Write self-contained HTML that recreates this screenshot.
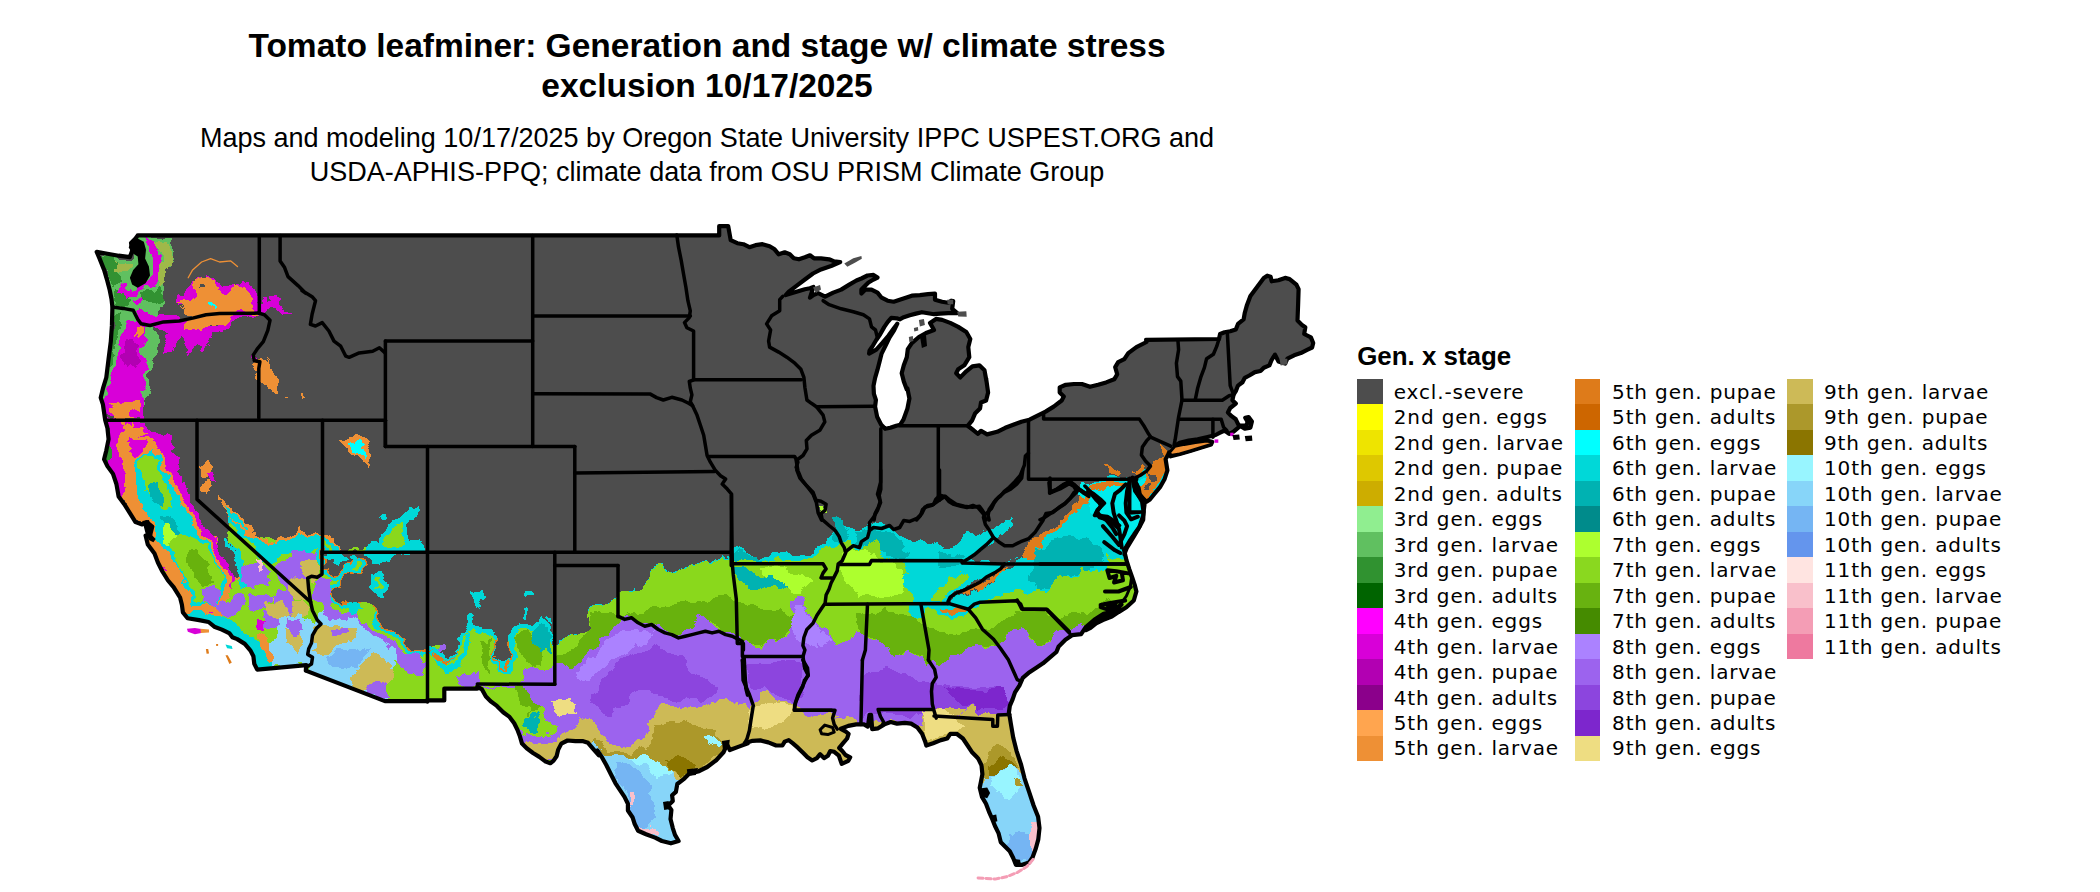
<!DOCTYPE html>
<html lang="en"><head><meta charset="utf-8"><title>Tomato leafminer: Generation and stage w/ climate stress exclusion</title>
<style>
html,body{margin:0;padding:0;background:#fff}
body{width:2100px;height:892px;position:relative;overflow:hidden;font-family:"Liberation Sans",sans-serif;color:#000}
.t{position:absolute;white-space:nowrap;text-align:center;left:0;width:1414px}
.title{font-weight:bold;font-size:33.5px;line-height:40px}
.sub{font-size:27.04px;line-height:33.3px}
.sw{position:absolute;width:26.1px;height:25.77px}
.lt{position:absolute;font-family:"DejaVu Sans",sans-serif;font-size:20px;letter-spacing:0.85px;line-height:25.47px;height:25.47px;white-space:nowrap}
.lg{position:absolute;left:1357.2px;top:341.2px;font-weight:bold;font-size:25.9px;line-height:30px;white-space:nowrap}
#map{position:absolute;left:0;top:0}
</style></head><body>
<div class="t title" style="top:25.5px">Tomato leafminer: Generation and stage w/ climate stress</div>
<div class="t title" style="top:65.8px">exclusion 10/17/2025</div>
<div class="t sub" style="top:122.4px">Maps and modeling 10/17/2025 by Oregon State University IPPC USPEST.ORG and</div>
<div class="t sub" style="top:155.7px">USDA-APHIS-PPQ; climate data from OSU PRISM Climate Group</div>
<svg id="map" width="1340" height="892" viewBox="0 0 1340 892">
<defs><filter id="rough" x="0" y="0" width="1340" height="892" filterUnits="userSpaceOnUse"><feTurbulence type="fractalNoise" baseFrequency="0.06" numOctaves="3" seed="7" result="n"/><feDisplacementMap in="SourceGraphic" in2="n" scale="15" xChannelSelector="R" yChannelSelector="G"/></filter><clipPath id="land"><path d="M137.7,235.4 L719.2,235.4 L719.2,235.1 L719.2,226.1 L728.2,226.1 L730.7,240.2 L737.3,243.2 L743.4,244.2 L749.4,247.2 L755.5,245.2 L762.5,244.2 L769.6,246.2 L774.6,249.3 L778.7,254.3 L784.7,252.3 L789.8,254.3 L793.8,258.3 L798.9,259.3 L804.9,257.3 L810.0,255.3 L814.0,258.3 L821.0,258.3 L829.1,259.3 L834.2,261.4 L840.2,262.0 L831.1,266.0 L821.0,269.4 L813.0,273.5 L804.9,279.5 L796.8,285.6 L788.8,291.6 L785.7,295.1 L794.8,292.2 L804.9,289.2 L810.0,288.2 L813.4,287.0 L812.2,291.0 L810.0,297.7 L813.4,295.1 L818.0,293.0 L825.1,296.7 L833.2,292.6 L841.2,289.6 L849.3,284.6 L856.4,280.5 L861.4,278.5 L867.5,275.5 L873.5,274.9 L877.5,277.5 L873.5,279.5 L868.5,282.5 L864.4,286.6 L861.4,289.6 L861.4,293.6 L865.4,289.6 L871.5,289.6 L877.5,292.6 L881.6,297.7 L887.6,300.7 L893.7,301.7 L899.7,299.7 L905.8,297.7 L911.8,295.7 L919.9,295.1 L928.0,294.2 L935.0,293.6 L935.0,299.7 L942.1,301.7 L948.2,302.7 L951.2,300.7 L953.2,301.1 L952.2,308.8 L957.2,313.2 L948.2,313.2 L940.1,313.6 L934.0,314.2 L928.0,313.2 L921.9,312.2 L915.9,313.6 L909.8,315.2 L903.8,317.2 L899.7,319.3 L896.7,318.3 L891.3,317.8 L887.6,322.1 L884.2,327.1 L880.2,334.2 L876.1,340.2 L873.1,345.3 L869.5,350.7 L869.1,353.6 L876.3,349.7 L882.6,342.7 L888.6,335.6 L893.7,328.5 L897.3,323.7 L894.1,330.4 L889.6,337.4 L885.6,345.5 L881.6,353.6 L879.6,361.6 L877.5,369.7 L875.1,377.8 L873.5,385.8 L873.9,393.9 L875.9,400.0 L875.1,406.6 L877.1,416.7 L881.2,424.7 L885.2,428.8 L890.3,427.8 L896.3,425.7 L900.3,424.7 L903.4,419.7 L907.4,408.6 L909.4,398.5 L907.4,388.4 L906.8,389.5 L903.8,381.4 L901.7,373.3 L903.8,365.3 L906.8,357.2 L907.8,349.1 L911.8,343.1 L918.9,337.0 L926.0,333.0 L934.0,330.0 L930.0,322.9 L936.0,318.9 L942.1,319.9 L950.2,322.9 L958.2,326.9 L966.3,332.0 L970.3,339.0 L968.3,347.1 L969.3,357.2 L964.3,365.3 L958.2,369.3 L956.2,373.3 L960.3,377.4 L966.3,371.3 L972.4,366.3 L979.4,365.3 L984.5,370.3 L986.5,381.4 L986.1,378.3 L988.1,392.5 L986.1,400.5 L981.0,402.5 L980.0,408.6 L975.0,413.6 L972.0,420.7 L967.9,425.7 L973.0,429.8 L978.0,433.8 L981.0,430.8 L987.1,434.4 L997.2,431.8 L1005.3,427.8 L1013.3,424.7 L1021.4,421.7 L1029.5,419.7 L1037.5,415.7 L1045.6,411.6 L1053.7,406.6 L1061.7,400.5 L1063.8,396.5 L1059.7,392.5 L1059.7,387.4 L1065.8,384.8 L1073.9,384.0 L1081.9,384.0 L1090.0,386.8 L1098.1,384.8 L1106.1,382.4 L1114.2,379.3 L1117.2,374.3 L1115.2,367.2 L1118.2,362.2 L1124.3,359.2 L1128.3,353.1 L1136.4,347.1 L1146.5,342.0 L1146.1,339.9 L1219.0,339.0 L1220.1,334.0 L1224.6,332.2 L1230.2,331.3 L1235.8,329.5 L1238.0,323.9 L1243.6,319.4 L1244.8,312.7 L1247.0,304.9 L1250.4,295.9 L1257.1,286.9 L1263.8,277.9 L1267.2,275.7 L1270.6,276.8 L1271.7,281.3 L1278.4,280.2 L1285.1,277.9 L1289.6,279.1 L1296.4,284.7 L1298.6,289.2 L1298.1,304.9 L1297.5,320.6 L1302.0,325.0 L1305.3,327.3 L1304.2,334.0 L1310.9,337.4 L1313.2,343.0 L1312.1,347.5 L1307.6,349.7 L1300.8,353.1 L1294.1,355.3 L1287.4,358.7 L1285.1,363.6 L1278.4,361.4 L1275.0,354.7 L1271.7,359.8 L1269.4,365.4 L1263.8,367.7 L1260.5,371.0 L1254.9,372.1 L1249.3,375.5 L1244.8,377.8 L1242.5,382.2 L1238.0,385.6 L1235.8,391.2 L1233.6,394.6 L1232.4,400.2 L1235.8,403.6 L1230.2,408.0 L1227.9,412.5 L1231.3,415.9 L1235.8,419.3 L1238.5,424.9 L1244.8,428.7 L1250.4,427.6 L1251.9,421.5 L1248.6,417.0 L1245.2,417.7 L1247.7,421.9 L1246.3,425.3 L1240.7,425.5 L1238.0,427.8 L1233.6,431.6 L1229.1,433.8 L1224.6,430.5 L1220.1,432.7 L1215.6,435.0 L1206.6,437.2 L1197.7,439.4 L1188.7,440.6 L1179.7,442.8 L1174.8,445.5 L1184.2,443.9 L1195.4,442.1 L1206.6,440.6 L1212.2,441.7 L1211.1,444.4 L1202.1,447.3 L1190.9,450.7 L1179.7,454.0 L1170.7,456.3 L1169.0,452.4 L1168.3,454.2 L1165.6,459.2 L1167.4,470.4 L1164.5,479.3 L1160.0,487.2 L1154.4,493.9 L1149.9,499.5 L1146.5,501.8 L1143.6,499.1 L1139.8,495.0 L1138.7,488.3 L1135.3,481.6 L1132.4,477.6 L1134.2,486.1 L1137.6,493.9 L1142.1,501.8 L1143.6,511.9 L1143.2,519.7 L1139.8,526.4 L1134.2,534.3 L1129.7,541.0 L1126.4,546.6 L1124.1,550.0 L1126.4,560.1 L1129.3,569.1 L1132.4,578.0 L1134.7,584.8 L1136.4,591.5 L1133.8,600.5 L1126.4,607.2 L1118.5,612.1 L1111.8,616.6 L1102.8,620.0 L1096.1,623.3 L1090.5,627.8 L1086.0,630.1 L1121.5,604.5 L1114.8,611.2 L1103.6,613.9 L1094.6,619.5 L1085.6,627.4 L1081.1,634.1 L1072.1,635.2 L1065.4,639.7 L1058.7,646.4 L1056.4,652.0 L1049.7,657.6 L1043.0,663.3 L1036.3,667.7 L1029.5,672.2 L1022.8,677.8 L1019.4,685.7 L1015.0,692.4 L1012.7,699.1 L1009.8,705.9 L1008.9,712.6 L1009.8,717.1 L1010.9,724.0 L1013.2,737.5 L1016.6,751.1 L1021.1,764.7 L1024.5,778.3 L1029.1,791.9 L1033.6,805.5 L1038.1,816.8 L1039.5,828.1 L1038.3,839.4 L1035.8,848.5 L1032.5,857.5 L1029.1,862.5 L1022.3,864.8 L1015.9,864.8 L1013.2,858.0 L1009.8,851.2 L1005.3,846.7 L1000.8,842.2 L998.5,833.1 L995.1,826.3 L992.4,819.5 L989.4,812.7 L986.0,803.7 L982.0,796.9 L979.7,787.8 L981.1,781.0 L982.4,774.2 L981.5,765.2 L978.1,758.4 L977.0,757.3 L972.3,752.6 L967.6,745.5 L962.9,738.5 L956.6,733.8 L950.3,733.8 L947.2,738.5 L940.9,740.1 L933.1,743.2 L926.3,745.5 L925.2,741.6 L922.1,733.8 L917.4,727.5 L911.1,723.6 L904.8,722.8 L897.0,723.6 L890.7,722.0 L884.4,724.4 L878.1,728.3 L872.2,729.1 L871.1,714.9 L869.5,714.9 L867.9,726.7 L864.0,724.4 L856.2,724.4 L848.3,725.9 L840.8,728.8 L845.5,731.4 L848.6,733.8 L847.1,738.5 L843.1,743.2 L839.2,747.9 L842.3,751.0 L845.5,755.0 L850.2,757.3 L848.3,760.8 L841.7,763.9 L838.9,755.7 L834.2,751.8 L830.3,751.0 L827.9,755.7 L824.0,758.1 L820.1,754.2 L816.9,758.1 L812.2,760.5 L807.5,757.3 L802.8,752.6 L798.1,747.9 L792.6,743.2 L788.7,740.1 L784.7,741.6 L782.4,745.5 L776.1,745.5 L768.3,742.4 L760.4,740.4 L752.6,740.8 L744.7,743.2 L747.9,743.2 L738.9,746.6 L729.8,750.0 L727.1,744.3 L723.5,752.3 L716.2,760.2 L707.2,767.0 L698.1,771.5 L689.1,773.8 L683.4,779.4 L677.3,784.0 L675.9,791.9 L672.1,795.3 L672.8,800.9 L668.2,805.5 L671.4,810.0 L670.5,819.1 L672.8,828.1 L675.0,834.9 L678.6,841.0 L670.9,843.3 L661.9,841.0 L655.1,837.6 L646.0,834.2 L638.1,830.8 L634.7,824.0 L632.5,817.2 L627.9,810.5 L627.9,803.7 L624.5,796.9 L620.0,790.1 L615.5,783.3 L610.9,774.2 L606.4,765.2 L601.9,757.2 L597.4,750.5 L598.9,755.4 L592.7,748.3 L588.0,742.8 L583.2,741.2 L575.4,741.2 L567.5,740.5 L561.3,743.6 L558.1,749.9 L556.6,756.2 L553.4,760.9 L550.3,763.2 L545.6,761.6 L539.3,756.9 L533.0,753.0 L526.7,748.3 L522.0,743.6 L519.7,735.7 L517.3,729.5 L514.2,723.2 L509.5,716.9 L503.2,712.2 L496.9,705.9 L490.6,701.2 L485.9,696.5 L482.0,689.4 L477.3,686.6 L477.3,688.7 L444.3,688.7 L444.3,700.4 L427.1,700.4 L427.8,701.1 L384.9,701.1 L305.8,670.6 L306.2,665.2 L257.2,669.6 L254.3,663.9 L253.4,656.3 L250.5,650.6 L244.8,643.9 L237.2,639.1 L232.4,637.2 L229.6,633.4 L221.9,629.6 L214.3,626.7 L208.6,622.0 L199.1,620.1 L187.6,618.2 L182.9,612.4 L181.9,604.8 L180.0,597.2 L179.2,596.2 L173.6,587.2 L168.0,580.5 L162.4,571.5 L157.9,562.5 L154.5,553.6 L147.8,544.6 L145.6,535.6 L150.0,535.6 L152.3,526.6 L146.7,522.1 L142.2,524.4 L135.5,522.1 L129.9,513.2 L124.3,504.2 L118.6,496.4 L116.4,484.0 L113.0,473.9 L107.4,466.1 L104.1,459.3 L106.3,450.4 L108.6,439.2 L107.4,427.9 L105.2,420.1 L102.9,404.4 L100.7,397.7 L102.9,388.7 L106.3,377.5 L108.5,359.6 L110.8,341.6 L111.9,325.9 L112.4,306.9 L111.5,299.0 L109.7,290.0 L107.4,281.1 L104.1,269.9 L99.6,258.6 L96.7,251.9 L107.4,253.7 L118.6,255.7 L129.9,257.1 L132.5,249.7 L131.0,242.9 L135.5,238.5 L137.7,235.5Z"/></clipPath></defs>
<path d="M137.7,235.4 L719.2,235.4 L719.2,235.1 L719.2,226.1 L728.2,226.1 L730.7,240.2 L737.3,243.2 L743.4,244.2 L749.4,247.2 L755.5,245.2 L762.5,244.2 L769.6,246.2 L774.6,249.3 L778.7,254.3 L784.7,252.3 L789.8,254.3 L793.8,258.3 L798.9,259.3 L804.9,257.3 L810.0,255.3 L814.0,258.3 L821.0,258.3 L829.1,259.3 L834.2,261.4 L840.2,262.0 L831.1,266.0 L821.0,269.4 L813.0,273.5 L804.9,279.5 L796.8,285.6 L788.8,291.6 L785.7,295.1 L794.8,292.2 L804.9,289.2 L810.0,288.2 L813.4,287.0 L812.2,291.0 L810.0,297.7 L813.4,295.1 L818.0,293.0 L825.1,296.7 L833.2,292.6 L841.2,289.6 L849.3,284.6 L856.4,280.5 L861.4,278.5 L867.5,275.5 L873.5,274.9 L877.5,277.5 L873.5,279.5 L868.5,282.5 L864.4,286.6 L861.4,289.6 L861.4,293.6 L865.4,289.6 L871.5,289.6 L877.5,292.6 L881.6,297.7 L887.6,300.7 L893.7,301.7 L899.7,299.7 L905.8,297.7 L911.8,295.7 L919.9,295.1 L928.0,294.2 L935.0,293.6 L935.0,299.7 L942.1,301.7 L948.2,302.7 L951.2,300.7 L953.2,301.1 L952.2,308.8 L957.2,313.2 L948.2,313.2 L940.1,313.6 L934.0,314.2 L928.0,313.2 L921.9,312.2 L915.9,313.6 L909.8,315.2 L903.8,317.2 L899.7,319.3 L896.7,318.3 L891.3,317.8 L887.6,322.1 L884.2,327.1 L880.2,334.2 L876.1,340.2 L873.1,345.3 L869.5,350.7 L869.1,353.6 L876.3,349.7 L882.6,342.7 L888.6,335.6 L893.7,328.5 L897.3,323.7 L894.1,330.4 L889.6,337.4 L885.6,345.5 L881.6,353.6 L879.6,361.6 L877.5,369.7 L875.1,377.8 L873.5,385.8 L873.9,393.9 L875.9,400.0 L875.1,406.6 L877.1,416.7 L881.2,424.7 L885.2,428.8 L890.3,427.8 L896.3,425.7 L900.3,424.7 L903.4,419.7 L907.4,408.6 L909.4,398.5 L907.4,388.4 L906.8,389.5 L903.8,381.4 L901.7,373.3 L903.8,365.3 L906.8,357.2 L907.8,349.1 L911.8,343.1 L918.9,337.0 L926.0,333.0 L934.0,330.0 L930.0,322.9 L936.0,318.9 L942.1,319.9 L950.2,322.9 L958.2,326.9 L966.3,332.0 L970.3,339.0 L968.3,347.1 L969.3,357.2 L964.3,365.3 L958.2,369.3 L956.2,373.3 L960.3,377.4 L966.3,371.3 L972.4,366.3 L979.4,365.3 L984.5,370.3 L986.5,381.4 L986.1,378.3 L988.1,392.5 L986.1,400.5 L981.0,402.5 L980.0,408.6 L975.0,413.6 L972.0,420.7 L967.9,425.7 L973.0,429.8 L978.0,433.8 L981.0,430.8 L987.1,434.4 L997.2,431.8 L1005.3,427.8 L1013.3,424.7 L1021.4,421.7 L1029.5,419.7 L1037.5,415.7 L1045.6,411.6 L1053.7,406.6 L1061.7,400.5 L1063.8,396.5 L1059.7,392.5 L1059.7,387.4 L1065.8,384.8 L1073.9,384.0 L1081.9,384.0 L1090.0,386.8 L1098.1,384.8 L1106.1,382.4 L1114.2,379.3 L1117.2,374.3 L1115.2,367.2 L1118.2,362.2 L1124.3,359.2 L1128.3,353.1 L1136.4,347.1 L1146.5,342.0 L1146.1,339.9 L1219.0,339.0 L1220.1,334.0 L1224.6,332.2 L1230.2,331.3 L1235.8,329.5 L1238.0,323.9 L1243.6,319.4 L1244.8,312.7 L1247.0,304.9 L1250.4,295.9 L1257.1,286.9 L1263.8,277.9 L1267.2,275.7 L1270.6,276.8 L1271.7,281.3 L1278.4,280.2 L1285.1,277.9 L1289.6,279.1 L1296.4,284.7 L1298.6,289.2 L1298.1,304.9 L1297.5,320.6 L1302.0,325.0 L1305.3,327.3 L1304.2,334.0 L1310.9,337.4 L1313.2,343.0 L1312.1,347.5 L1307.6,349.7 L1300.8,353.1 L1294.1,355.3 L1287.4,358.7 L1285.1,363.6 L1278.4,361.4 L1275.0,354.7 L1271.7,359.8 L1269.4,365.4 L1263.8,367.7 L1260.5,371.0 L1254.9,372.1 L1249.3,375.5 L1244.8,377.8 L1242.5,382.2 L1238.0,385.6 L1235.8,391.2 L1233.6,394.6 L1232.4,400.2 L1235.8,403.6 L1230.2,408.0 L1227.9,412.5 L1231.3,415.9 L1235.8,419.3 L1238.5,424.9 L1244.8,428.7 L1250.4,427.6 L1251.9,421.5 L1248.6,417.0 L1245.2,417.7 L1247.7,421.9 L1246.3,425.3 L1240.7,425.5 L1238.0,427.8 L1233.6,431.6 L1229.1,433.8 L1224.6,430.5 L1220.1,432.7 L1215.6,435.0 L1206.6,437.2 L1197.7,439.4 L1188.7,440.6 L1179.7,442.8 L1174.8,445.5 L1184.2,443.9 L1195.4,442.1 L1206.6,440.6 L1212.2,441.7 L1211.1,444.4 L1202.1,447.3 L1190.9,450.7 L1179.7,454.0 L1170.7,456.3 L1169.0,452.4 L1168.3,454.2 L1165.6,459.2 L1167.4,470.4 L1164.5,479.3 L1160.0,487.2 L1154.4,493.9 L1149.9,499.5 L1146.5,501.8 L1143.6,499.1 L1139.8,495.0 L1138.7,488.3 L1135.3,481.6 L1132.4,477.6 L1134.2,486.1 L1137.6,493.9 L1142.1,501.8 L1143.6,511.9 L1143.2,519.7 L1139.8,526.4 L1134.2,534.3 L1129.7,541.0 L1126.4,546.6 L1124.1,550.0 L1126.4,560.1 L1129.3,569.1 L1132.4,578.0 L1134.7,584.8 L1136.4,591.5 L1133.8,600.5 L1126.4,607.2 L1118.5,612.1 L1111.8,616.6 L1102.8,620.0 L1096.1,623.3 L1090.5,627.8 L1086.0,630.1 L1121.5,604.5 L1114.8,611.2 L1103.6,613.9 L1094.6,619.5 L1085.6,627.4 L1081.1,634.1 L1072.1,635.2 L1065.4,639.7 L1058.7,646.4 L1056.4,652.0 L1049.7,657.6 L1043.0,663.3 L1036.3,667.7 L1029.5,672.2 L1022.8,677.8 L1019.4,685.7 L1015.0,692.4 L1012.7,699.1 L1009.8,705.9 L1008.9,712.6 L1009.8,717.1 L1010.9,724.0 L1013.2,737.5 L1016.6,751.1 L1021.1,764.7 L1024.5,778.3 L1029.1,791.9 L1033.6,805.5 L1038.1,816.8 L1039.5,828.1 L1038.3,839.4 L1035.8,848.5 L1032.5,857.5 L1029.1,862.5 L1022.3,864.8 L1015.9,864.8 L1013.2,858.0 L1009.8,851.2 L1005.3,846.7 L1000.8,842.2 L998.5,833.1 L995.1,826.3 L992.4,819.5 L989.4,812.7 L986.0,803.7 L982.0,796.9 L979.7,787.8 L981.1,781.0 L982.4,774.2 L981.5,765.2 L978.1,758.4 L977.0,757.3 L972.3,752.6 L967.6,745.5 L962.9,738.5 L956.6,733.8 L950.3,733.8 L947.2,738.5 L940.9,740.1 L933.1,743.2 L926.3,745.5 L925.2,741.6 L922.1,733.8 L917.4,727.5 L911.1,723.6 L904.8,722.8 L897.0,723.6 L890.7,722.0 L884.4,724.4 L878.1,728.3 L872.2,729.1 L871.1,714.9 L869.5,714.9 L867.9,726.7 L864.0,724.4 L856.2,724.4 L848.3,725.9 L840.8,728.8 L845.5,731.4 L848.6,733.8 L847.1,738.5 L843.1,743.2 L839.2,747.9 L842.3,751.0 L845.5,755.0 L850.2,757.3 L848.3,760.8 L841.7,763.9 L838.9,755.7 L834.2,751.8 L830.3,751.0 L827.9,755.7 L824.0,758.1 L820.1,754.2 L816.9,758.1 L812.2,760.5 L807.5,757.3 L802.8,752.6 L798.1,747.9 L792.6,743.2 L788.7,740.1 L784.7,741.6 L782.4,745.5 L776.1,745.5 L768.3,742.4 L760.4,740.4 L752.6,740.8 L744.7,743.2 L747.9,743.2 L738.9,746.6 L729.8,750.0 L727.1,744.3 L723.5,752.3 L716.2,760.2 L707.2,767.0 L698.1,771.5 L689.1,773.8 L683.4,779.4 L677.3,784.0 L675.9,791.9 L672.1,795.3 L672.8,800.9 L668.2,805.5 L671.4,810.0 L670.5,819.1 L672.8,828.1 L675.0,834.9 L678.6,841.0 L670.9,843.3 L661.9,841.0 L655.1,837.6 L646.0,834.2 L638.1,830.8 L634.7,824.0 L632.5,817.2 L627.9,810.5 L627.9,803.7 L624.5,796.9 L620.0,790.1 L615.5,783.3 L610.9,774.2 L606.4,765.2 L601.9,757.2 L597.4,750.5 L598.9,755.4 L592.7,748.3 L588.0,742.8 L583.2,741.2 L575.4,741.2 L567.5,740.5 L561.3,743.6 L558.1,749.9 L556.6,756.2 L553.4,760.9 L550.3,763.2 L545.6,761.6 L539.3,756.9 L533.0,753.0 L526.7,748.3 L522.0,743.6 L519.7,735.7 L517.3,729.5 L514.2,723.2 L509.5,716.9 L503.2,712.2 L496.9,705.9 L490.6,701.2 L485.9,696.5 L482.0,689.4 L477.3,686.6 L477.3,688.7 L444.3,688.7 L444.3,700.4 L427.1,700.4 L427.8,701.1 L384.9,701.1 L305.8,670.6 L306.2,665.2 L257.2,669.6 L254.3,663.9 L253.4,656.3 L250.5,650.6 L244.8,643.9 L237.2,639.1 L232.4,637.2 L229.6,633.4 L221.9,629.6 L214.3,626.7 L208.6,622.0 L199.1,620.1 L187.6,618.2 L182.9,612.4 L181.9,604.8 L180.0,597.2 L179.2,596.2 L173.6,587.2 L168.0,580.5 L162.4,571.5 L157.9,562.5 L154.5,553.6 L147.8,544.6 L145.6,535.6 L150.0,535.6 L152.3,526.6 L146.7,522.1 L142.2,524.4 L135.5,522.1 L129.9,513.2 L124.3,504.2 L118.6,496.4 L116.4,484.0 L113.0,473.9 L107.4,466.1 L104.1,459.3 L106.3,450.4 L108.6,439.2 L107.4,427.9 L105.2,420.1 L102.9,404.4 L100.7,397.7 L102.9,388.7 L106.3,377.5 L108.5,359.6 L110.8,341.6 L111.9,325.9 L112.4,306.9 L111.5,299.0 L109.7,290.0 L107.4,281.1 L104.1,269.9 L99.6,258.6 L96.7,251.9 L107.4,253.7 L118.6,255.7 L129.9,257.1 L132.5,249.7 L131.0,242.9 L135.5,238.5 L137.7,235.5Z" fill="#4D4D4D"/>
<g clip-path="url(#land)"><g filter="url(#rough)" shape-rendering="crispEdges">
<path d="M160.9,540.0 L322.0,540.0 L322.0,551.8 L427.8,551.8 L427.8,710.0 L160.9,710.0Z" fill="#8AD81F"/>
<path d="M230.0,507.6 L238.1,517.7 L246.1,527.8 L254.2,537.9 L264.3,541.9 L274.4,544.0 L282.5,535.9 L290.6,537.9 L298.6,529.8 L306.7,533.9 L314.8,531.8 L321.8,535.9 L330.9,537.9 L341.0,545.0 L343.0,553.0 L343.0,621.7 L230.0,621.7Z" fill="#EE9035"/>
<path d="M230.0,510.6 L238.1,520.7 L246.1,530.8 L254.2,540.9 L264.3,545.0 L274.4,547.0 L282.5,538.9 L290.6,540.9 L298.6,532.9 L306.7,536.9 L314.8,534.9 L321.8,538.9 L330.9,540.9 L341.0,547.0 L343.0,555.1 L351.1,559.1 L355.1,565.1 L351.1,571.2 L343.0,573.2 L339.0,581.3 L332.9,591.4 L339.0,599.5 L347.1,599.5 L355.1,601.5 L371.3,603.5 L375.3,621.7 L230.0,621.7Z" fill="#00D8D8"/>
<path d="M230.0,524.8 L242.1,534.9 L254.2,549.0 L270.4,553.0 L286.5,549.0 L302.7,545.0 L321.8,547.0 L335.0,553.0 L343.0,561.1 L339.0,571.2 L332.9,581.3 L328.9,591.4 L335.0,601.5 L351.1,607.5 L367.3,609.6 L371.3,621.7 L230.0,621.7Z" fill="#8AD81F"/>
<path d="M313.4,623.9 L324.9,608.6 L332.5,595.3 L370.6,606.7 L427.8,654.4 L427.8,703.9 L384.9,703.9 L305.8,671.5 L311.5,654.4 L313.4,635.3Z" fill="#87D5F9"/>
<path d="M393.5,658.2 L427.8,654.4 L427.8,703.9 L389.7,703.9 L387.8,684.9Z" fill="#8AD81F"/>
<path d="M338.2,587.7 L332.5,595.3 L338.2,602.9 L347.7,601.0 L359.2,602.9 L370.6,606.7 L380.1,620.1 L389.7,629.6 L399.2,635.3 L408.7,642.9 L418.3,652.5 L427.8,648.7" fill="none" stroke="#9C63EE" stroke-width="32.0" stroke-linejoin="round" stroke-linecap="round"/>
<path d="M322.0,551.8 L324.9,559.1 L326.8,566.7 L332.5,574.3 L343.9,568.6 L351.6,559.1 L363.0,557.2 L366.8,564.8 L363.0,574.3 L351.6,572.4 L343.9,578.1 L338.2,587.7 L332.5,595.3 L338.2,602.9 L347.7,601.0 L359.2,602.9 L370.6,606.7 L380.1,620.1 L389.7,629.6 L399.2,635.3 L408.7,642.9 L418.3,652.5 L427.8,648.7" fill="none" stroke="#8AD81F" stroke-width="19.8" stroke-linejoin="round" stroke-linecap="round"/>
<path d="M322.0,551.8 L324.9,559.1 L326.8,566.7 L332.5,574.3 L343.9,568.6 L351.6,559.1 L363.0,557.2 L366.8,564.8 L363.0,574.3 L351.6,572.4 L343.9,578.1 L338.2,587.7 L332.5,595.3 L338.2,602.9 L347.7,601.0 L359.2,602.9 L370.6,606.7 L380.1,620.1 L389.7,629.6 L399.2,635.3 L408.7,642.9 L418.3,652.5 L427.8,648.7" fill="none" stroke="#00D8D8" stroke-width="9.9" stroke-linejoin="round" stroke-linecap="round"/>
<path d="M322.0,551.8 L324.9,559.1 L326.8,566.7 L332.5,574.3 L343.9,568.6 L351.6,559.1 L363.0,557.2 L366.8,564.8 L363.0,574.3 L351.6,572.4 L343.9,578.1 L338.2,587.7 L332.5,595.3 L338.2,602.9 L347.7,601.0 L359.2,602.9 L370.6,606.7 L380.1,620.1 L389.7,629.6 L399.2,635.3 L408.7,642.9 L418.3,652.5 L427.8,648.7" fill="none" stroke="#DE7B1A" stroke-width="2.7" stroke-linejoin="round" stroke-linecap="round"/>
<path d="M322.0,551.8 L427.8,551.8 L427.8,646.7 L418.3,652.5 L408.7,642.9 L399.2,635.3 L389.7,629.6 L380.1,620.1 L370.6,606.7 L359.2,602.9 L347.7,601.0 L338.2,602.9 L332.5,595.3 L338.2,587.7 L343.9,578.1 L351.6,572.4 L363.0,574.3 L366.8,564.8 L363.0,557.2 L351.6,559.1 L343.9,568.6 L332.5,574.3 L326.8,566.7 L324.9,559.1Z" fill="#4D4D4D"/>
<path d="M427.8,551.8 L454.5,551.8 L454.5,643.9 L427.8,643.9Z" fill="#4D4D4D"/>
<path d="M370.6,555.2 L389.7,554.3 L391.6,561.0 L378.2,564.8 L370.6,561.0Z" fill="#00D8D8"/>
<path d="M372.5,572.4 L382.1,570.5 L386.8,583.8 L384.9,596.2 L378.2,593.4 L373.5,583.8Z" fill="#00D8D8"/>
<path d="M376.3,576.2 L381.1,576.2 L384.0,587.7 L380.1,590.5Z" fill="#8AD81F"/>
<path d="M349.6,601.0 L359.2,602.0 L361.1,614.3 L353.5,616.2 L348.7,608.6Z" fill="#00D8D8"/>
<path d="M359.2,604.8 L370.6,605.8 L373.5,620.1 L365.9,624.8 L360.1,616.2Z" fill="#8AD81F"/>
<path d="M229.6,540.0 L237.2,551.4 L239.1,564.8 L235.3,578.1" fill="none" stroke="#00D8D8" stroke-width="6.9" stroke-linejoin="round" stroke-linecap="round"/>
<path d="M213.4,540.0 L218.1,551.4 L223.8,564.8 L229.6,576.2 L235.3,578.1" fill="none" stroke="#EE9035" stroke-width="5.7" stroke-linejoin="round" stroke-linecap="round"/>
<path d="M215.3,540.0 L219.5,551.4 L225.2,564.8 L230.5,575.3" fill="none" stroke="#D800D8" stroke-width="1.9" stroke-linejoin="round" stroke-linecap="round"/>
<path d="M213.4,530.5 L229.6,530.5 L237.2,551.4 L239.1,564.8 L235.3,578.1 L229.6,576.2 L223.8,564.8 L218.1,551.4Z" fill="#4D4D4D"/>
<path d="M365.2,547.0 L379.4,542.9 L383.4,532.9 L393.5,520.7 L403.6,514.7 L411.7,508.6 L419.7,504.6 L418.7,514.7 L411.7,520.7 L405.6,528.8 L411.7,540.9 L419.7,536.9 L423.8,540.9 L424.8,550.6 L411.7,553.0 L399.6,555.5 L391.5,561.1 L383.4,563.1 L371.3,561.1 L365.2,555.1Z" fill="#00D8D8"/>
<path d="M387.4,534.9 L395.5,526.8 L403.6,524.8 L401.6,534.9 L405.6,545.0 L391.5,548.0 L383.4,545.0Z" fill="#8AD81F"/>
<path d="M371.3,571.2 L383.4,573.2 L386.4,585.3 L383.8,597.8 L377.4,589.8 L373.3,581.3Z" fill="#00D8D8"/>
<path d="M376.9,577.3 L381.0,577.3 L381.8,589.4 L378.4,587.4Z" fill="#8AD81F"/>
<path d="M324.9,553.0 L343.0,554.0 L345.1,561.1 L335.0,563.1 L324.9,561.1Z" fill="#00D8D8"/>
<path d="M348.1,557.1 L354.1,556.7 L355.1,565.1 L349.1,566.2Z" fill="#00D8D8"/>
<path d="M380.4,515.1 L385.4,515.1 L386.4,520.7 L381.4,521.1Z" fill="#00D8D8"/>
<path d="M339.0,440.0 L351.1,436.0 L365.2,440.0 L369.3,452.1 L371.3,468.3 L365.2,462.2 L359.2,456.1 L349.1,452.1 L343.0,446.1Z" fill="#EE9035"/>
<path d="M349.1,441.0 L359.2,442.0 L364.2,450.1 L367.3,458.2 L361.2,455.1 L353.1,450.1Z" fill="#00FFFF"/>
<path d="M271.5,616.2 L286.7,612.4 L302.0,616.2 L313.4,623.9 L324.9,622.0 L332.5,629.6 L324.9,654.4 L338.2,646.7 L351.6,639.1 L370.6,635.3 L378.2,650.6 L363.0,662.0 L347.7,677.2 L343.9,690.6 L305.8,673.4 L305.8,664.9 L271.5,668.1 L265.8,658.2 L269.6,642.9 L275.3,629.6Z" fill="#87D5F9"/>
<path d="M328.7,654.4 L342.0,650.6 L363.0,646.7 L370.6,652.5 L359.2,662.0 L343.9,669.6 L332.5,667.7Z" fill="#75B5F3"/>
<path d="M313.4,624.8 L336.3,623.9 L359.2,629.6 L351.6,639.1 L338.2,646.7 L324.9,654.4 L315.3,650.6 L311.5,639.1Z" fill="#CDBA57"/>
<path d="M330.6,629.6 L349.6,626.7 L347.7,635.3 L332.5,637.6Z" fill="#9C63EE"/>
<path d="M347.7,677.2 L355.4,665.8 L370.6,658.2 L385.9,658.2 L395.4,673.4 L389.7,684.9 L370.6,691.5 L363.0,694.4Z" fill="#CDBA57"/>
<path d="M393.5,646.7 L408.7,650.6 L424.0,662.0 L424.0,673.4 L408.7,671.5 L395.4,662.0Z" fill="#9C63EE"/>
<path d="M368.7,684.9 L389.7,681.1 L391.6,698.6 L370.6,696.7Z" fill="#9C63EE"/>
<path d="M294.4,564.8 L313.4,559.1 L321.4,564.8 L321.4,578.1 L309.6,578.1 L298.2,576.2Z" fill="#CDBA57"/>
<path d="M298.2,551.4 L313.4,549.5 L313.4,561.0 L302.0,564.8Z" fill="#9C63EE"/>
<path d="M313.4,583.8 L328.7,585.7 L330.6,602.9 L319.1,604.8 L312.5,597.2Z" fill="#9C63EE"/>
<path d="M241.0,578.1 L252.4,577.2 L254.3,589.6 L242.9,590.5Z" fill="#9C63EE"/>
<path d="M248.6,595.3 L269.6,594.3 L270.5,608.6 L256.2,610.5 L248.6,604.8Z" fill="#9C63EE"/>
<path d="M204.8,591.5 L223.8,589.9 L224.8,602.9 L206.7,603.9Z" fill="#9C63EE"/>
<path d="M263.9,612.4 L279.1,611.5 L279.1,627.7 L265.8,628.6Z" fill="#9C63EE"/>
<path d="M269.6,595.3 L286.7,591.5 L302.0,602.9 L309.6,612.4 L302.0,616.2 L286.7,612.4 L275.3,608.6Z" fill="#CDBA57"/>
<path d="M286.7,631.5 L298.2,629.6 L302.0,646.7 L294.4,654.4 L288.7,646.7Z" fill="#CDBA57"/>
<path d="M275.3,562.9 L294.4,559.1 L302.0,578.1 L294.4,589.6 L279.1,583.8Z" fill="#9C63EE"/>
<path d="M252.4,547.6 L279.1,543.8 L313.4,540.0 L321.1,547.6 L294.4,553.3 L275.3,559.1 L260.1,561.0Z" fill="#00D8D8"/>
<path d="M180.0,587.7 L191.4,597.2 L204.8,604.8 L218.1,612.4 L229.6,620.1 L241.0,629.6 L252.4,639.1 L262.0,646.7 L269.6,658.2 L271.5,669.6 L252.4,673.4 L248.6,654.4 L237.2,642.9 L225.7,635.3 L208.6,625.8 L187.6,622.0 L180.0,612.4Z" fill="#00D8D8"/>
<path d="M180.0,587.7 L187.6,595.3 L199.1,604.8 L210.5,608.6 L223.8,610.5 L218.1,616.2 L204.8,614.3 L191.4,608.6 L180.0,602.9Z" fill="#EE9035"/>
<path d="M225.7,602.9 L237.2,599.1 L248.6,602.9 L258.2,612.4 L260.1,623.9 L252.4,631.5 L241.0,629.6 L231.5,622.0 L223.8,612.4Z" fill="#8AD81F"/>
<path d="M180.0,540.0 L208.6,540.0 L218.1,555.2 L220.0,574.3 L216.2,589.6 L204.8,593.4 L195.2,583.8 L187.6,568.6 L180.0,559.1Z" fill="#68B210"/>
<path d="M256.2,635.3 L263.9,633.4 L269.6,646.7 L271.5,662.0 L266.7,663.9 L262.0,650.6Z" fill="#EE9035"/>
<path d="M208.6,606.7 L221.0,604.8 L222.9,611.5 L210.5,613.4Z" fill="#D800D8"/>
<path d="M256.2,622.0 L265.8,621.0 L266.7,629.6 L257.2,630.5Z" fill="#D800D8"/>
<path d="M105.2,420.1 L145.6,420.1 L150.0,427.9 L159.0,432.4 L170.2,436.9 L174.7,445.9 L168.0,452.6 L161.3,450.4 L152.3,443.6 L147.8,448.1 L143.3,452.6 L138.8,458.2 L134.3,466.1 L129.9,477.3 L125.4,486.3 L123.1,497.5 L118.6,496.4 L116.4,484.0 L113.0,473.9 L107.4,466.1 L104.1,459.3 L106.3,450.4 L108.6,439.2 L107.4,427.9Z" fill="#EE9035"/>
<path d="M105.2,420.1 L118.6,420.1 L120.9,432.4 L118.6,450.4 L120.9,468.3 L127.6,484.0 L123.1,497.5 L118.6,496.4 L116.4,484.0 L113.0,473.9 L107.4,466.1 L104.1,459.3 L106.3,450.4 L108.6,439.2 L107.4,427.9Z" fill="#D800D8"/>
<path d="M129.9,420.1 L145.6,420.1 L150.0,427.9 L159.0,432.4 L170.2,436.9 L174.7,445.9 L168.0,452.6 L161.3,450.4 L152.3,443.6 L147.8,439.2 L138.8,434.7 L132.1,427.9Z" fill="#D800D8"/>
<path d="M131.0,439.2 L142.2,440.3 L144.4,454.9 L138.8,458.2 L132.1,452.6Z" fill="#D800D8"/>
<path d="M120.9,420.1 L129.9,420.1 L128.7,425.7 L122.0,425.7Z" fill="#D800D8"/>
<path d="M104.1,443.6 L110.1,443.6 L110.1,466.1 L106.3,466.1Z" fill="#309230"/>
<path d="M136.6,454.9 L143.3,448.1 L150.0,443.6 L159.0,454.9 L168.0,470.6 L174.7,484.0 L183.7,499.7 L190.4,513.2 L197.1,526.6 L206.1,540.1 L215.1,553.6 L221.8,564.8 L228.6,578.2 L230.8,587.2 L228.6,596.2 L224.1,611.9 L184.8,611.9 L179.2,596.2 L173.6,587.2 L168.0,580.5 L162.4,571.5 L157.9,562.5 L154.5,553.6 L147.8,544.6 L145.6,535.6 L142.2,524.4 L135.5,522.1 L129.9,513.2 L124.3,504.2 L123.1,497.5 L125.4,486.3 L129.9,477.3 L133.2,466.1Z" fill="#EE9035"/>
<path d="M150.0,443.6 L159.0,439.2 L172.5,454.9 L179.2,472.8 L185.9,488.5 L192.7,504.2 L199.4,517.7 L206.1,531.1 L214.0,542.3 L224.1,558.0 L230.8,573.7 L233.0,587.2 L230.8,587.2 L228.6,578.2 L221.8,564.8 L215.1,553.6 L206.1,540.1 L197.1,526.6 L190.4,513.2 L183.7,499.7 L174.7,484.0 L168.0,470.6 L159.0,454.9Z" fill="#D800D8"/>
<path d="M147.8,544.6 L154.5,549.1 L161.3,562.5 L165.7,573.7 L162.4,571.5 L157.9,562.5 L154.5,553.6Z" fill="#D800D8"/>
<path d="M120.9,426.8 L145.6,425.7 L146.7,434.7 L122.0,435.8Z" fill="#EE9035"/>
<path d="M118.6,443.6 L129.9,443.6 L131.0,454.9 L119.8,454.9Z" fill="#EE9035"/>
<path d="M123.1,468.3 L136.6,467.2 L137.7,484.0 L124.3,485.1Z" fill="#EE9035"/>
<path d="M137.7,458.2 L144.4,452.6 L152.3,450.4 L159.0,461.6 L165.7,475.0 L174.7,490.7 L181.4,504.2 L188.2,517.7 L194.9,528.9 L203.9,542.3 L212.9,553.6 L219.6,567.0 L224.1,580.5 L224.1,593.9 L219.6,605.1 L192.7,605.1 L185.9,589.4 L179.2,576.0 L174.7,564.8 L168.0,553.6 L161.3,542.3 L154.5,531.1 L150.0,517.7 L143.3,504.2 L138.8,490.7 L135.5,477.3 L135.5,466.1Z" fill="#00D8D8"/>
<path d="M140.0,460.5 L146.7,453.7 L152.3,454.9 L157.9,468.3 L164.6,481.8 L171.4,495.2 L173.6,508.7 L163.5,508.7 L154.5,499.7 L147.8,486.3 L142.2,475.0Z" fill="#8AD81F"/>
<path d="M150.0,484.0 L159.0,481.8 L163.5,495.2 L164.6,506.4 L156.8,506.4 L151.2,497.5Z" fill="#00B2B2"/>
<path d="M159.0,517.7 L172.5,515.4 L181.4,526.6 L181.4,535.6 L168.0,535.6 L161.3,526.6Z" fill="#00B2B2"/>
<path d="M161.3,526.6 L170.2,525.5 L177.0,535.6 L174.7,544.6 L165.7,542.3Z" fill="#ADFF2F"/>
<path d="M170.2,537.9 L181.4,535.6 L192.7,537.9 L203.9,546.8 L212.9,558.0 L219.6,571.5 L221.8,585.0 L219.6,598.4 L210.6,605.1 L197.1,600.7 L188.2,589.4 L181.4,576.0 L174.7,562.5 L171.4,549.1Z" fill="#8AD81F"/>
<path d="M185.9,553.6 L199.4,551.3 L210.6,567.0 L212.9,585.0 L203.9,587.2 L192.7,576.0Z" fill="#68B210"/>
<path d="M201.6,589.4 L215.1,587.2 L221.8,596.2 L217.3,605.1 L203.9,602.9Z" fill="#9C63EE"/>
<path d="M226.3,537.9 L230.8,536.7 L237.5,553.6 L243.1,571.5 L245.4,589.4 L239.8,589.4 L237.5,571.5 L231.9,553.6Z" fill="#00D8D8"/>
<path d="M199.4,466.1 L206.1,463.8 L211.7,470.6 L210.6,477.3 L203.9,479.5 L199.8,475.0Z" fill="#EE9035"/>
<path d="M201.6,484.0 L209.5,481.8 L210.6,490.7 L205.0,496.4 L200.5,491.9Z" fill="#EE9035"/>
<path d="M207.2,475.0 L214.0,473.9 L217.3,481.8 L210.6,484.0Z" fill="#D800D8"/>
<path d="M219.6,497.5 L226.3,504.2 L235.3,513.2 L242.0,522.1 L251.0,528.9 L255.5,540.1 L246.5,535.6 L237.5,526.6 L228.6,515.4 L221.8,506.4Z" fill="#EE9035"/>
<path d="M224.1,504.2 L230.8,510.9 L239.8,522.1 L246.5,531.1 L242.0,528.9 L233.0,519.9 L225.2,509.8Z" fill="#00D8D8"/>
<path d="M96.7,251.9 L118.6,255.3 L131.0,256.4 L133.2,242.9 L137.7,235.5 L174.7,235.5 L173.6,249.7 L169.1,267.6 L163.5,283.3 L162.4,299.0 L159.0,312.5 L152.3,323.7 L156.8,332.6 L155.6,350.6 L152.3,368.5 L148.9,382.0 L145.6,399.9 L146.0,417.9 L104.1,417.9 L100.7,397.7 L106.3,377.5 L108.5,359.6 L110.8,341.6 L111.9,325.9 L112.4,306.9 L107.4,281.1 L104.1,269.9 L99.6,258.6Z" fill="#60C060"/>
<path d="M116.4,290.0 L125.4,292.3 L132.1,301.2 L129.9,306.9 L116.4,306.9 L114.2,299.0Z" fill="#309230"/>
<path d="M141.1,292.3 L159.0,287.8 L162.4,299.0 L152.3,303.5 L143.3,301.2Z" fill="#309230"/>
<path d="M113.0,314.7 L120.9,314.7 L118.6,330.4 L115.3,346.1 L113.0,359.6 L109.7,373.0 L108.5,359.6 L110.8,341.6 L111.9,325.9Z" fill="#309230"/>
<path d="M98.5,253.0 L114.2,255.3 L118.6,269.9 L120.9,283.3 L111.9,287.8 L107.4,278.8 L102.9,267.6Z" fill="#309230"/>
<path d="M115.3,260.9 L129.9,259.8 L133.2,266.5 L127.6,273.2 L117.5,271.0Z" fill="#9FB84A"/>
<path d="M152.3,238.5 L170.2,238.5 L171.3,251.9 L169.1,267.6 L162.4,285.6 L156.8,287.8 L159.0,274.3 L162.4,258.6 L156.8,247.4Z" fill="#9FB84A"/>
<path d="M144.4,238.5 L152.3,238.5 L157.9,251.9 L160.1,265.4 L157.9,278.8 L152.3,285.6 L141.1,290.0 L133.2,294.5 L127.6,296.8 L120.9,292.3 L122.0,284.4 L128.7,290.0 L138.8,285.6 L150.0,281.1 L153.4,269.9 L152.3,256.4 L147.8,247.4Z" fill="#D800D8"/>
<path d="M133.2,300.1 L142.2,297.9 L145.6,302.4 L137.7,305.7Z" fill="#D800D8"/>
<path d="M135.5,311.3 L143.3,310.2 L152.3,314.7 L163.5,314.7 L174.7,314.7 L184.8,321.4 L184.8,330.4 L206.1,329.3 L226.3,323.7 L233.0,319.2 L228.5,328.2 L215.1,332.6 L210.6,341.6 L206.1,350.6 L197.1,346.1 L190.4,354.0 L183.7,341.6 L179.2,337.1 L172.5,351.7 L163.5,354.0 L162.4,343.9 L168.0,332.6 L159.0,327.0 L152.3,324.8 L143.3,330.4 L144.4,339.4 L141.1,350.6 L145.6,359.6 L148.9,370.8 L143.8,382.0 L141.1,391.0 L145.1,399.9 L146.0,417.9 L106.3,417.9 L104.7,404.4 L106.3,395.4 L110.1,382.0 L114.2,370.8 L116.8,359.6 L119.1,343.9 L123.1,332.6 L128.1,323.7 L137.7,321.4Z" fill="#D800D8"/>
<path d="M123.1,341.6 L133.2,337.1 L138.8,346.1 L137.7,359.6 L129.9,368.5 L122.0,359.6Z" fill="#B200B2"/>
<path d="M134.8,327.0 L141.1,327.0 L142.2,334.9 L136.1,334.9Z" fill="#EE9035"/>
<path d="M114.2,402.2 L129.9,401.0 L139.9,404.4 L141.1,412.3 L129.9,413.4 L118.6,412.3Z" fill="#EE9035"/>
<path d="M176.9,301.2 L181.4,292.3 L187.0,294.5 L192.6,281.1 L201.6,277.0 L211.0,276.1 L216.2,282.2 L230.8,285.1 L239.7,286.7 L248.7,282.9 L256.6,292.3 L259.5,301.2 L264.4,299.0 L280.1,297.9 L282.8,308.0 L291.3,311.3 L282.3,313.6 L275.6,306.2 L264.4,306.2 L262.2,312.9 L257.7,314.0 L242.0,319.2 L226.3,323.7 L184.8,330.4 L184.8,321.4 L192.6,314.7 L183.7,311.3 L179.2,306.9Z" fill="#D800D8"/>
<path d="M178.1,302.4 L183.7,299.0 L188.2,301.2 L194.9,296.8 L192.6,281.1 L201.6,277.7 L210.6,276.6 L215.1,283.3 L219.6,290.0 L228.5,292.3 L234.1,284.4 L239.7,290.0 L246.5,292.3 L252.1,299.0 L256.6,304.6 L257.7,312.5 L246.5,313.6 L239.7,310.2 L233.0,313.6 L231.9,319.2 L226.3,323.7 L215.1,325.9 L206.1,329.3 L192.6,330.4 L184.8,330.4 L184.8,321.4 L190.4,318.1 L192.6,314.7 L183.7,311.3 L179.2,306.9Z" fill="#EE9035"/>
<path d="M199.8,283.8 L207.2,282.9 L207.9,288.9 L200.5,289.6Z" fill="#4D4D4D"/>
<path d="M207.9,304.6 L211.7,303.9 L218.4,310.7 L216.2,312.5 L210.6,309.1Z" fill="#00FFFF"/>
<path d="M253.2,368.5 L257.7,364.0 L264.4,359.6 L269.3,364.0 L271.6,370.8 L278.3,379.7 L276.1,391.4 L268.9,386.9 L262.2,382.4 L255.4,380.2Z" fill="#EE9035"/>
<path d="M251.0,357.3 L255.4,355.1 L258.8,359.6 L255.4,362.9Z" fill="#D800D8"/>
<path d="M284.6,394.5 L290.2,394.5 L290.2,396.8 L284.6,396.8Z" fill="#EE9035"/>
<path d="M299.2,393.2 L303.7,397.7 L302.5,398.8 L298.5,394.5Z" fill="#EE9035"/>
<path d="M111.9,410.0 L129.9,410.0 L132.1,419.0 L114.2,419.4Z" fill="#EE9035"/>
<path d="M427.3,641.6 L431.9,645.9 L438.3,654.4 L446.9,658.6 L453.2,654.4 L457.5,641.6 L463.9,633.1 L468.1,624.6 L470.3,611.8 L473.5,620.3 L476.7,624.6 L483.1,626.7 L489.4,631.0 L494.8,637.3 L495.8,654.4 L500.1,662.9 L506.5,662.9 L509.7,652.3 L507.5,637.3 L510.7,626.7 L519.3,621.4 L527.8,622.4 L536.3,624.6 L540.6,620.3 L549.1,626.7 L552.3,633.1 L554.7,644.0 L567.5,637.3 L580.9,633.9 L591.0,628.8 L587.7,613.7 L594.4,607.0 L604.5,600.3 L614.6,596.9 L619.6,590.2 L628.0,588.5 L638.1,590.2 L644.8,580.1 L651.6,570.0 L661.7,566.6 L671.8,571.7 L681.9,570.0 L691.9,561.6 L702.0,559.9 L712.1,561.6 L722.2,556.5 L730.6,554.8 L732.3,547.7 L740.3,550.7 L752.5,554.7 L760.5,556.8 L770.6,554.7 L780.7,555.7 L786.8,549.7 L794.8,554.7 L804.9,556.8 L813.0,549.7 L821.0,547.7 L829.1,544.6 L833.2,536.6 L832.1,526.5 L831.1,518.4 L837.2,517.4 L845.3,522.5 L853.3,528.5 L861.4,526.5 L867.5,524.5 L873.5,520.4 L881.6,521.4 L889.6,522.5 L893.7,528.5 L897.7,536.6 L905.8,540.6 L913.9,542.6 L921.9,539.6 L930.0,542.6 L938.1,546.7 L940.0,546.7 L948.1,549.7 L956.1,544.7 L962.2,538.6 L966.2,528.5 L972.3,534.6 L980.4,534.6 L988.4,528.5 L994.5,528.5 L1000.6,522.5 L1008.6,519.5 L1010.6,524.5 L1004.6,530.6 L998.5,536.6 L994.5,540.6 L986.4,545.7 L980.4,550.7 L972.3,556.8 L966.2,561.2 L980.4,563.3 L1004.6,563.3 L1020.7,558.8 L1024.8,550.7 L1034.9,540.6 L1045.0,530.6 L1057.1,522.5 L1069.2,512.4 L1081.3,500.3 L1087.4,492.6 L1080.4,490.6 L1087.1,483.8 L1093.8,480.5 L1102.8,478.9 L1111.8,478.2 L1129.7,477.8 L1134.2,474.9 L1140.9,472.2 L1147.7,470.4 L1156.6,463.6 L1163.4,456.9 L1169.0,453.6 L1183.6,452.4 L1219.4,443.5 L1219.4,900.0 L427.3,900.0Z" fill="#00D8D8"/>
<path d="M831.1,518.4 L837.2,517.4 L845.3,522.5 L849.3,530.5 L847.3,538.6 L841.2,542.6 L835.2,536.6 L832.1,526.5Z" fill="#00B2B2"/>
<path d="M853.3,530.5 L867.5,528.5 L881.6,530.5 L893.7,536.6 L901.7,546.7 L909.8,550.7 L901.7,558.8 L889.6,554.7 L877.5,550.7 L865.4,546.7 L855.3,542.6Z" fill="#00B2B2"/>
<path d="M734.3,550.7 L752.5,555.7 L766.6,556.8 L766.6,562.8 L752.5,563.8 L734.3,562.8Z" fill="#00B2B2"/>
<path d="M1036.9,546.7 L1053.0,542.7 L1069.2,536.6 L1085.3,538.6 L1101.5,546.7 L1107.5,558.8 L1101.5,564.9 L1081.3,570.9 L1069.2,575.0 L1059.1,579.0 L1053.0,585.1 L1036.9,587.1 L1030.8,579.0 L1034.9,566.9 L1028.8,556.8Z" fill="#00B2B2"/>
<path d="M940.0,554.8 L952.1,552.8 L964.2,556.8 L960.2,564.9 L948.1,566.9 L940.0,564.9Z" fill="#00B2B2"/>
<path d="M1125.7,480.3 L1144.6,480.3 L1147.2,504.6 L1143.2,515.3 L1139.2,527.4 L1133.8,536.8 L1127.1,547.6 L1120.3,547.6 L1119.0,528.8 L1113.6,512.6 L1112.3,503.2 L1115.0,493.8 L1120.3,489.8Z" fill="#00ECEC"/>
<path d="M1080.0,481.7 L1125.7,481.7 L1120.3,489.8 L1115.0,493.8 L1112.3,503.2 L1113.6,512.6 L1106.9,520.7 L1093.4,515.3 L1088.1,500.5 L1080.0,496.5Z" fill="#00ECEC"/>
<path d="M1160.7,446.7 L1166.1,449.4 L1167.4,464.2 L1166.1,475.0 L1160.7,484.4 L1155.3,492.4 L1149.9,499.2 L1145.9,501.9 L1140.5,497.8 L1139.2,492.4 L1143.2,489.8 L1140.5,484.4 L1143.2,479.0 L1145.9,473.6 L1149.9,466.9 L1155.3,460.2 L1158.0,453.4Z" fill="#DE7B1A"/>
<path d="M1147.2,475.2 L1159.3,474.7 L1158.7,481.0 L1152.6,482.0 L1147.2,480.3Z" fill="#4D4D4D"/>
<path d="M1145.2,483.7 L1152.6,483.0 L1152.0,489.5 L1145.9,490.0Z" fill="#4D4D4D"/>
<path d="M1088.1,483.0 L1125.7,482.0 L1125.7,485.7 L1113.6,488.4 L1104.2,493.8 L1097.5,492.7 L1090.8,488.4Z" fill="#DE7B1A"/>
<path d="M1104.2,464.9 L1108.2,466.9 L1120.3,472.3 L1119.0,477.0 L1110.9,476.3 L1106.9,470.9Z" fill="#DE7B1A"/>
<path d="M1131.1,470.3 L1143.2,466.9 L1145.9,468.9 L1139.2,473.6 L1131.8,474.3Z" fill="#DE7B1A"/>
<path d="M1080.0,497.8 L1086.7,499.2 L1088.1,503.2 L1081.3,504.6 L1080.0,503.2Z" fill="#DE7B1A"/>
<path d="M1020.7,559.8 L1022.8,550.7 L1032.9,540.6 L1045.0,530.6 L1057.1,522.1 L1069.2,512.0 L1081.3,500.3 L1087.4,492.6 L1090.4,495.2 L1085.3,502.3 L1073.2,513.4 L1061.1,524.5 L1049.0,534.6 L1038.9,543.7 L1032.9,550.7 L1030.8,559.8Z" fill="#DE7B1A"/>
<path d="M1004.6,563.5 L1020.7,559.4 L1006.6,570.9 L990.5,583.0 L976.3,591.1 L960.2,599.6 L950.1,603.6 L947.7,601.2 L956.1,593.1 L972.3,585.5 L986.4,577.0 L998.5,569.9Z" fill="#4D4D4D"/>
<path d="M1000.6,570.9 L1008.6,566.9 L1006.6,570.9 L996.5,579.0 L988.4,583.0 L980.4,589.1 L970.3,593.1 L962.2,597.2 L964.2,592.1 L974.3,587.1 L986.4,580.0Z" fill="#DE7B1A"/>
<path d="M940.0,611.3 L948.1,609.3 L960.2,607.3 L966.2,609.3 L960.2,612.3 L948.1,614.3 L940.0,615.3Z" fill="#DE7B1A"/>
<path d="M427.3,647.6 L431.9,651.8 L438.3,660.3 L446.9,664.6 L453.2,660.3 L457.5,647.6 L463.9,639.1 L468.1,630.5 L470.3,617.8 L473.5,626.3 L476.7,630.5 L483.1,632.7 L489.4,636.9 L494.8,643.3 L495.8,660.3 L500.1,668.9 L506.5,668.9 L509.7,658.2 L507.5,643.3 L510.7,632.7 L519.3,627.3 L527.8,628.4 L536.3,630.5 L540.6,626.3 L549.1,632.7 L552.3,639.1 L554.7,644.7 L567.5,637.9 L580.9,634.6 L591.0,629.5 L587.7,614.4 L594.4,607.7 L604.5,600.9 L614.6,597.6 L619.6,590.8 L628.0,589.2 L638.1,590.8 L644.8,580.7 L651.6,570.6 L661.7,567.3 L671.8,572.3 L681.9,570.6 L691.9,562.2 L702.0,560.6 L712.1,562.2 L722.2,557.2 L730.6,556.2 L732.3,558.8 L750.4,561.8 L766.6,559.8 L784.7,558.8 L804.9,559.8 L813.0,554.7 L821.0,550.7 L829.1,547.7 L839.2,544.6 L845.3,540.6 L853.3,544.6 L861.4,547.7 L867.5,546.7 L873.5,542.6 L877.5,546.7 L881.6,554.7 L889.6,558.8 L899.7,560.8 L905.8,564.8 L907.8,574.9 L901.7,585.0 L909.8,593.1 L913.9,601.1 L911.8,611.2 L913.9,620.3 L920.9,615.3 L923.9,609.2 L932.0,611.2 L942.1,619.3 L952.2,618.3 L940.0,619.4 L952.1,618.4 L964.2,615.3 L968.3,611.3 L972.3,607.3 L980.4,602.8 L992.5,599.2 L1006.6,593.1 L1016.7,589.1 L1028.8,591.1 L1036.9,587.1 L1045.0,589.1 L1053.0,585.1 L1059.1,579.0 L1069.2,575.0 L1077.3,575.0 L1081.3,566.9 L1091.4,570.9 L1101.5,566.9 L1107.5,564.9 L1111.6,556.8 L1121.7,554.8 L1127.7,558.8 L1141.9,558.8 L1141.9,900.0 L427.3,900.0Z" fill="#8AD81F"/>
<path d="M930.0,599.1 L936.0,591.0 L942.1,585.0 L952.2,580.0 L962.3,574.9 L970.3,570.9 L972.4,574.9 L964.3,582.0 L954.2,589.0 L946.1,595.1 L938.1,600.1 L932.0,602.1Z" fill="#8AD81F"/>
<path d="M841.2,550.7 L853.3,547.7 L867.5,549.7 L871.5,556.8 L881.6,558.8 L893.7,564.8 L901.7,570.9 L897.7,583.0 L887.6,591.0 L873.5,595.1 L857.4,591.0 L845.3,583.0 L839.2,570.9 L841.2,560.8Z" fill="#ADFF2F"/>
<path d="M860.0,560.6 L873.5,553.8 L890.3,563.9 L903.7,570.7 L907.1,584.1 L897.0,594.2 L880.2,597.6 L866.7,590.8 L860.0,594.2Z" fill="#ADFF2F"/>
<path d="M762.6,567.3 L782.8,566.6 L803.0,575.7 L813.1,584.1 L799.6,592.5 L782.8,584.1 L766.0,579.1Z" fill="#ADFF2F"/>
<path d="M734.3,566.8 L750.4,568.9 L760.5,576.9 L776.7,578.9 L786.8,585.0 L780.7,590.0 L766.6,589.4 L750.4,585.4 L738.3,583.4 L734.3,574.9Z" fill="#00B2B2"/>
<path d="M591.0,614.4 L607.8,611.0 L621.3,617.7 L638.1,611.0 L661.7,607.7 L681.9,600.9 L702.0,600.9 L722.2,597.6 L735.7,600.9 L759.2,607.7 L782.8,611.0 L796.2,614.4 L792.9,627.8 L782.8,637.9 L766.0,644.7 L745.8,641.3 L725.6,629.5 L708.8,621.1 L695.3,617.7 L688.6,629.5 L675.1,634.6 L648.2,624.5 L628.0,616.1 L614.6,627.8 L597.7,644.7 L580.9,661.5 L567.5,664.8 L554.7,668.2 L554.7,658.1 L574.2,648.0 L587.7,634.6Z" fill="#68B210"/>
<path d="M860.0,614.4 L880.2,611.0 L903.7,614.4 L927.3,624.5 L947.5,634.6 L971.0,631.2 L994.6,627.8 L1008.0,617.8 L1018.1,611.0 L1034.9,611.0 L1055.1,617.8 L1075.3,614.4 L1095.5,611.0 L1109.0,600.9 L1115.7,607.7 L1095.5,624.5 L1078.7,627.8 L1065.2,631.2 L1051.8,637.9 L1038.3,648.0 L1024.9,629.5 L1011.4,631.2 L994.6,644.7 L977.8,644.7 L957.6,654.8 L940.7,664.9 L923.9,664.9 L910.5,648.0 L897.0,658.1 L880.2,644.7 L860.0,634.6Z" fill="#68B210"/>
<path d="M568.1,752.3 L564.1,742.2 L557.4,728.8 L552.3,715.3 L547.3,698.5 L533.8,688.4 L525.4,683.3 L525.4,668.2 L533.8,666.5 L547.3,669.9 L554.7,668.2 L567.5,664.8 L580.9,661.5 L587.7,651.4 L597.7,644.7 L607.8,634.6 L614.6,627.8 L621.3,622.8 L628.0,616.1 L638.1,619.4 L648.2,624.5 L661.7,627.8 L675.1,634.6 L688.6,629.5 L695.3,617.7 L702.0,614.4 L708.8,621.1 L715.5,627.8 L725.6,629.5 L735.7,634.6 L745.8,641.3 L755.9,646.3 L766.0,644.7 L776.0,641.3 L786.1,637.9 L789.5,624.5 L792.9,611.0 L797.9,594.2 L803.0,600.9 L808.0,611.0 L813.1,617.7 L816.4,622.8 L819.8,626.2 L826.5,631.2 L831.6,641.3 L836.6,648.0 L843.3,644.7 L850.1,634.6 L856.8,627.8 L860.2,632.9 L860.0,634.6 L870.1,641.3 L880.2,644.7 L890.3,648.0 L897.0,658.1 L903.7,654.8 L910.5,648.0 L917.2,658.1 L923.9,664.9 L930.7,661.5 L940.7,664.9 L947.5,658.1 L957.6,654.8 L967.7,648.0 L977.8,644.7 L987.8,648.0 L994.6,644.7 L1004.7,637.9 L1011.4,631.2 L1018.1,627.8 L1024.9,629.5 L1031.6,641.3 L1038.3,648.0 L1045.0,644.7 L1051.8,637.9 L1058.5,632.9 L1065.2,631.2 L1075.3,627.8 L1085.4,622.8 L1102.2,621.1 L1102.2,900.0 L568.1,900.0Z" fill="#9C63EE"/>
<path d="M621.3,658.1 L654.9,648.0 L681.9,658.1 L702.0,674.9 L715.5,688.4 L702.0,701.9 L668.4,698.5 L641.5,691.8 L624.7,701.9 L607.8,715.3 L591.0,701.9 L601.1,681.7Z" fill="#8C45DE"/>
<path d="M591.0,658.1 L614.6,634.6 L634.8,627.8 L654.9,634.6 L638.1,644.7 L614.6,658.1 L594.4,674.9 L580.9,681.7 L574.2,671.6Z" fill="#AB82FF"/>
<path d="M792.9,611.0 L803.0,604.3 L816.4,624.5 L829.9,641.3 L816.4,648.0 L803.0,641.3 L792.9,634.6 L787.8,624.5Z" fill="#AB82FF"/>
<path d="M745.8,661.5 L803.0,661.5 L803.0,688.4 L796.2,705.2 L769.3,688.4 L749.1,688.4Z" fill="#8C45DE"/>
<path d="M860.0,674.9 L886.9,668.2 L927.3,681.7 L960.9,688.4 L994.6,688.4 L1011.4,701.9 L1008.0,715.3 L987.8,718.7 L960.9,708.6 L937.4,712.0 L910.5,715.3 L880.2,712.0 L860.0,715.3Z" fill="#8C45DE"/>
<path d="M944.1,688.4 L977.8,691.8 L1004.7,688.4 L1011.4,701.9 L994.6,708.6 L960.9,705.2Z" fill="#7D26CD"/>
<path d="M560.7,748.9 L567.5,735.5 L577.6,722.0 L580.9,717.0 L591.0,723.7 L601.1,732.1 L607.8,738.9 L621.3,743.9 L631.4,745.6 L641.5,742.2 L648.2,732.1 L651.6,718.7 L654.9,711.9 L661.7,703.5 L675.1,705.2 L685.2,708.6 L695.3,710.3 L705.4,706.9 L715.5,701.9 L725.6,700.2 L735.7,701.9 L745.8,705.2 L750.8,711.9 L755.9,701.9 L762.6,691.8 L769.3,688.4 L776.0,698.5 L782.8,701.9 L792.9,705.2 L803.0,711.9 L813.1,715.3 L823.1,718.7 L833.2,708.6 L836.6,718.7 L834.2,719.6 L840.5,721.2 L846.7,714.9 L853.0,719.6 L862.4,721.2 L870.3,722.8 L881.3,724.7 L897.0,723.1 L912.7,724.7 L920.5,726.2 L922.1,711.8 L928.4,711.8 L933.1,707.1 L939.3,705.5 L944.1,711.8 L951.9,716.5 L959.8,713.4 L966.0,707.1 L980.0,711.8 L936.2,705.8 L943.0,710.4 L947.5,714.9 L956.6,717.2 L963.4,708.1 L974.7,705.8 L979.2,712.6 L988.3,714.9 L997.4,713.8 L1013.2,712.6 L1081.1,712.6 L1081.1,900.0 L560.7,900.0Z" fill="#CDBA57"/>
<path d="M550.6,700.2 L570.8,699.2 L577.6,706.9 L575.9,713.6 L560.7,712.6Z" fill="#CDBA57"/>
<path d="M749.1,715.3 L762.6,701.9 L776.0,701.9 L792.9,708.6 L782.8,722.0 L766.0,728.8 L752.5,725.4Z" fill="#EEDD82"/>
<path d="M922.1,712.6 L933.1,707.9 L942.5,707.1 L948.8,714.9 L944.1,725.9 L934.6,733.8 L925.2,735.3Z" fill="#EEDD82"/>
<path d="M924.9,714.9 L936.2,707.0 L945.3,712.6 L956.6,718.3 L967.9,726.2 L958.9,735.3 L945.3,733.0 L931.7,739.8 L924.9,735.3Z" fill="#EEDD82"/>
<path d="M650.6,738.7 L659.6,724.0 L673.2,719.4 L686.8,721.7 L700.4,728.5 L714.0,730.8 L723.0,742.1 L718.5,755.7 L707.2,764.7 L695.8,770.4 L682.3,777.2 L668.7,774.9 L661.9,762.5 L652.8,755.7 L646.0,751.1Z" fill="#AC982B"/>
<path d="M666.4,757.9 L677.7,753.4 L686.8,757.9 L695.8,764.7 L686.8,772.6 L677.7,777.2 L668.7,773.8Z" fill="#8B7500"/>
<path d="M589.4,740.9 L600.8,744.3 L612.1,751.1 L627.9,753.4 L643.8,751.1 L655.1,754.5 L659.6,760.2 L643.8,756.8 L627.9,759.1 L612.1,756.8 L600.8,750.0 L591.7,745.5Z" fill="#AC982B"/>
<path d="M988.3,746.6 L997.4,742.1 L1006.4,746.6 L1015.5,755.7 L1021.1,767.0 L1008.7,768.8 L999.6,773.3 L990.6,777.8 L984.2,781.7 L983.3,767.0Z" fill="#AC982B"/>
<path d="M990.6,762.5 L1001.9,757.9 L1013.2,762.5 L1017.7,768.1 L1006.4,769.2 L997.4,773.8 L989.4,777.2Z" fill="#8B7500"/>
<path d="M591.7,744.8 L600.8,749.3 L612.1,756.1 L627.9,758.4 L643.8,756.1 L650.6,758.4 L659.6,760.6 L666.4,767.4 L668.7,776.5 L675.5,781.0 L683.4,778.8 L695.8,803.2 L686.8,848.5 L627.9,848.5 L582.6,744.3Z" fill="#87D5F9"/>
<path d="M627.9,758.4 L643.8,756.1 L650.6,758.4 L659.6,760.6 L666.4,767.4 L668.7,776.5 L659.6,776.0 L650.6,767.0 L637.0,764.7Z" fill="#98F5FF"/>
<path d="M614.3,767.0 L627.9,764.7 L641.5,771.5 L650.6,785.1 L652.8,803.2 L657.4,816.8 L650.6,825.8 L641.5,828.1 L634.7,821.3 L627.9,807.7 L625.7,796.4 L618.9,785.1Z" fill="#75B5F3"/>
<path d="M629.1,791.9 L635.8,791.9 L635.8,798.7 L632.5,807.7 L629.1,803.2Z" fill="#F9C0CB"/>
<path d="M638.1,824.7 L646.0,828.1 L659.6,832.6 L659.6,837.6 L650.6,836.7 L639.2,830.4Z" fill="#F9C0CB"/>
<path d="M704.9,737.5 L716.2,736.4 L719.6,744.3 L709.4,746.6Z" fill="#98F5FF"/>
<path d="M977.0,785.1 L982.6,782.8 L990.6,776.5 L999.6,772.0 L1008.7,767.4 L1017.7,768.6 L1026.8,774.2 L1058.5,780.6 L1058.5,871.1 L967.9,871.1Z" fill="#87D5F9"/>
<path d="M990.6,778.3 L999.6,772.6 L1008.7,768.1 L1017.7,769.2 L1022.3,780.6 L1017.7,794.2 L1006.4,798.7 L997.4,791.9Z" fill="#98F5FF"/>
<path d="M1006.4,834.9 L1020.0,830.4 L1031.3,834.9 L1035.8,848.5 L1029.1,862.1 L1017.7,864.3 L1010.9,853.0Z" fill="#75B5F3"/>
<path d="M1013.2,779.4 L1020.0,777.2 L1022.3,785.1 L1016.6,788.5Z" fill="#AC982B"/>
<path d="M1032.5,823.6 L1040.4,821.3 L1040.4,844.0 L1033.6,853.0 L1029.1,846.2 L1030.2,834.9Z" fill="#F9C0CB"/>
<path d="M477.3,684.7 L555.0,684.7 L577.0,687.1 L577.0,727.9 L567.5,740.5 L561.3,743.6 L558.1,749.9 L550.3,764.0 L514.2,765.6 L477.3,690.2Z" fill="#9C63EE"/>
<path d="M482.8,687.1 L526.7,687.1 L529.9,699.6 L539.3,713.8 L545.6,723.2 L558.1,724.8 L556.6,731.0 L545.6,734.2 L536.2,737.3 L526.7,734.2 L520.5,727.9 L514.2,720.1 L507.9,713.8 L498.5,705.9 L489.1,698.1 L482.8,690.2Z" fill="#8AD81F"/>
<path d="M514.2,687.1 L526.7,687.1 L529.9,699.6 L536.2,710.6 L529.9,713.8 L522.0,705.9 L517.3,696.5Z" fill="#68B210"/>
<path d="M526.7,715.3 L533.0,713.8 L539.3,724.8 L536.2,734.2 L529.9,732.6 L526.0,724.8Z" fill="#00B2B2"/>
<path d="M550.3,700.4 L569.1,699.3 L575.4,705.9 L577.0,711.4 L566.0,713.8 L558.1,712.2Z" fill="#EEDD82"/>
<path d="M522.0,740.5 L529.9,742.0 L539.3,743.6 L550.3,740.5 L561.3,737.3 L570.7,727.9 L577.0,715.3 L583.2,727.9 L577.0,741.2 L567.5,740.5 L561.3,743.6 L558.1,749.9 L556.6,756.2 L553.4,760.9 L550.3,763.2 L545.6,761.6 L539.3,756.9 L533.0,753.0 L526.7,748.3Z" fill="#CDBA57"/>
<path d="M457.7,676.1 L467.1,673.7 L476.5,675.3 L476.5,684.7 L459.2,685.5Z" fill="#9C63EE"/>
<path d="M532.0,629.3 L540.6,625.0 L549.1,631.4 L552.3,637.8 L552.3,654.8 L544.8,650.6 L538.4,656.9 L533.1,646.3Z" fill="#00B2B2"/>
<path d="M494.8,642.0 L495.8,659.1 L500.1,667.6 L506.5,667.6 L509.7,656.9 L507.5,642.0" fill="none" stroke="#DE7B1A" stroke-width="1.9" stroke-linejoin="round" stroke-linecap="round"/>
<path d="M473.5,590.9 L485.2,589.9 L486.2,597.3 L480.9,601.6 L478.8,610.1 L474.5,608.0Z" fill="#00D8D8"/>
<path d="M466.4,610.1 L469.8,610.1 L473.5,629.3 L469.2,629.3Z" fill="#00D8D8"/>
<path d="M524.6,592.0 L533.1,592.6 L533.1,597.3 L525.6,597.3Z" fill="#00D8D8"/>
<path d="M521.4,608.0 L525.2,608.0 L525.6,616.5 L521.8,616.5Z" fill="#00D8D8"/>
<path d="M545.9,619.0 L550.1,619.0 L550.1,622.9 L545.9,622.9Z" fill="#00D8D8"/>
<path d="M515.0,637.8 L527.8,629.3 L536.3,646.3 L540.6,663.3 L532.0,667.6 L521.4,659.1Z" fill="#68B210"/>
<path d="M480.9,642.0 L489.4,639.9 L493.7,659.1 L489.4,676.1 L483.1,663.3Z" fill="#68B210"/>
<path d="M491.6,635.6 L495.8,646.3 L493.7,659.1 L500.1,671.8 L510.7,671.8 L515.0,659.1 L515.0,637.8 L519.3,629.3 L510.7,629.3 L508.6,642.0 L510.7,656.9 L506.5,668.7 L500.1,668.7 L495.8,659.1 L495.4,642.0Z" fill="#00D8D8"/>
<path d="M436.2,659.1 L446.9,665.5 L455.4,663.3 L463.9,646.3 L470.3,629.3 L473.5,635.6 L468.1,650.6 L459.6,667.6 L446.9,671.8 L436.2,667.6Z" fill="#00D8D8"/>
<path d="M431.9,648.4 L438.3,656.9 L446.9,661.6 L453.2,658.0 L455.8,650.6 L453.2,659.1 L446.9,663.8 L437.9,659.5Z" fill="#DE7B1A"/>
<path d="M457.5,678.2 L470.3,671.8 L476.7,680.4 L472.4,686.8 L459.6,686.8Z" fill="#9C63EE"/>
<path d="M290.6,553.0 L306.7,549.0 L318.8,553.0 L316.8,565.1 L302.7,569.2 L290.6,565.1Z" fill="#9C63EE"/>
<path d="M302.7,561.1 L318.8,557.1 L320.8,577.3 L310.7,581.3 L300.6,573.2Z" fill="#CDBA57"/>
<path d="M242.1,565.1 L258.3,561.1 L270.4,571.2 L266.3,585.3 L250.2,587.4 L240.1,579.3Z" fill="#9C63EE"/>
<path d="M270.4,593.4 L290.6,589.4 L298.6,601.5 L290.6,613.6 L274.4,611.6Z" fill="#9C63EE"/>
<path d="M266.3,601.5 L282.5,599.5 L290.6,611.6 L278.4,620.1 L266.3,613.6Z" fill="#CDBA57"/>
<path d="M314.8,581.3 L330.9,579.3 L332.9,593.4 L324.9,601.5 L314.8,597.4Z" fill="#9C63EE"/>
<path d="M255.2,559.1 L260.3,558.1 L263.3,571.2 L260.3,574.2Z" fill="#F9C0CB"/>
<path d="M218.1,602.9 L237.2,597.2 L244.8,604.8 L237.2,616.2 L221.9,614.3Z" fill="#9C63EE"/>
<path d="M290.6,578.1 L305.8,580.0 L311.5,597.2 L302.0,602.9 L292.5,593.4Z" fill="#CDBA57"/>
<path d="M286.7,616.2 L302.0,618.2 L305.8,629.6 L294.4,635.3 L286.7,625.8Z" fill="#9C63EE"/>
<path d="M818.1,504.3 L823.1,502.6 L823.8,510.0 L819.1,512.0Z" fill="#ADFF2F"/>
</g></g>
<g fill="none" stroke="#000" stroke-width="3.5" stroke-linejoin="round" stroke-linecap="round">
<path d="M137.7,235.4 L719.2,235.4 L719.2,235.1 L719.2,226.1 L728.2,226.1 L730.7,240.2 L737.3,243.2 L743.4,244.2 L749.4,247.2 L755.5,245.2 L762.5,244.2 L769.6,246.2 L774.6,249.3 L778.7,254.3 L784.7,252.3 L789.8,254.3 L793.8,258.3 L798.9,259.3 L804.9,257.3 L810.0,255.3 L814.0,258.3 L821.0,258.3 L829.1,259.3 L834.2,261.4 L840.2,262.0 L831.1,266.0 L821.0,269.4 L813.0,273.5 L804.9,279.5 L796.8,285.6 L788.8,291.6 L785.7,295.1 L794.8,292.2 L804.9,289.2 L810.0,288.2 L813.4,287.0 L812.2,291.0 L810.0,297.7 L813.4,295.1 L818.0,293.0 L825.1,296.7 L833.2,292.6 L841.2,289.6 L849.3,284.6 L856.4,280.5 L861.4,278.5 L867.5,275.5 L873.5,274.9 L877.5,277.5 L873.5,279.5 L868.5,282.5 L864.4,286.6 L861.4,289.6 L861.4,293.6 L865.4,289.6 L871.5,289.6 L877.5,292.6 L881.6,297.7 L887.6,300.7 L893.7,301.7 L899.7,299.7 L905.8,297.7 L911.8,295.7 L919.9,295.1 L928.0,294.2 L935.0,293.6 L935.0,299.7 L942.1,301.7 L948.2,302.7 L951.2,300.7 L953.2,301.1 L952.2,308.8 L957.2,313.2 L948.2,313.2 L940.1,313.6 L934.0,314.2 L928.0,313.2 L921.9,312.2 L915.9,313.6 L909.8,315.2 L903.8,317.2 L899.7,319.3 L896.7,318.3 L891.3,317.8 L887.6,322.1 L884.2,327.1 L880.2,334.2 L876.1,340.2 L873.1,345.3 L869.5,350.7 L869.1,353.6 L876.3,349.7 L882.6,342.7 L888.6,335.6 L893.7,328.5 L897.3,323.7 L894.1,330.4 L889.6,337.4 L885.6,345.5 L881.6,353.6 L879.6,361.6 L877.5,369.7 L875.1,377.8 L873.5,385.8 L873.9,393.9 L875.9,400.0 L875.1,406.6 L877.1,416.7 L881.2,424.7 L885.2,428.8 L890.3,427.8 L896.3,425.7 L900.3,424.7 L903.4,419.7 L907.4,408.6 L909.4,398.5 L907.4,388.4 L906.8,389.5 L903.8,381.4 L901.7,373.3 L903.8,365.3 L906.8,357.2 L907.8,349.1 L911.8,343.1 L918.9,337.0 L926.0,333.0 L934.0,330.0 L930.0,322.9 L936.0,318.9 L942.1,319.9 L950.2,322.9 L958.2,326.9 L966.3,332.0 L970.3,339.0 L968.3,347.1 L969.3,357.2 L964.3,365.3 L958.2,369.3 L956.2,373.3 L960.3,377.4 L966.3,371.3 L972.4,366.3 L979.4,365.3 L984.5,370.3 L986.5,381.4 L986.1,378.3 L988.1,392.5 L986.1,400.5 L981.0,402.5 L980.0,408.6 L975.0,413.6 L972.0,420.7 L967.9,425.7 L973.0,429.8 L978.0,433.8 L981.0,430.8 L987.1,434.4 L997.2,431.8 L1005.3,427.8 L1013.3,424.7 L1021.4,421.7 L1029.5,419.7 L1037.5,415.7 L1045.6,411.6 L1053.7,406.6 L1061.7,400.5 L1063.8,396.5 L1059.7,392.5 L1059.7,387.4 L1065.8,384.8 L1073.9,384.0 L1081.9,384.0 L1090.0,386.8 L1098.1,384.8 L1106.1,382.4 L1114.2,379.3 L1117.2,374.3 L1115.2,367.2 L1118.2,362.2 L1124.3,359.2 L1128.3,353.1 L1136.4,347.1 L1146.5,342.0 L1146.1,339.9 L1219.0,339.0 L1220.1,334.0 L1224.6,332.2 L1230.2,331.3 L1235.8,329.5 L1238.0,323.9 L1243.6,319.4 L1244.8,312.7 L1247.0,304.9 L1250.4,295.9 L1257.1,286.9 L1263.8,277.9 L1267.2,275.7 L1270.6,276.8 L1271.7,281.3 L1278.4,280.2 L1285.1,277.9 L1289.6,279.1 L1296.4,284.7 L1298.6,289.2 L1298.1,304.9 L1297.5,320.6 L1302.0,325.0 L1305.3,327.3 L1304.2,334.0 L1310.9,337.4 L1313.2,343.0 L1312.1,347.5 L1307.6,349.7 L1300.8,353.1 L1294.1,355.3 L1287.4,358.7 L1285.1,363.6 L1278.4,361.4 L1275.0,354.7 L1271.7,359.8 L1269.4,365.4 L1263.8,367.7 L1260.5,371.0 L1254.9,372.1 L1249.3,375.5 L1244.8,377.8 L1242.5,382.2 L1238.0,385.6 L1235.8,391.2 L1233.6,394.6 L1232.4,400.2 L1235.8,403.6 L1230.2,408.0 L1227.9,412.5 L1231.3,415.9 L1235.8,419.3 L1238.5,424.9 L1244.8,428.7 L1250.4,427.6 L1251.9,421.5 L1248.6,417.0 L1245.2,417.7 L1247.7,421.9 L1246.3,425.3 L1240.7,425.5 L1238.0,427.8 L1233.6,431.6 L1229.1,433.8 L1224.6,430.5 L1220.1,432.7 L1215.6,435.0 L1206.6,437.2 L1197.7,439.4 L1188.7,440.6 L1179.7,442.8 L1174.8,445.5 L1184.2,443.9 L1195.4,442.1 L1206.6,440.6 L1212.2,441.7 L1211.1,444.4 L1202.1,447.3 L1190.9,450.7 L1179.7,454.0 L1170.7,456.3 L1169.0,452.4 L1168.3,454.2 L1165.6,459.2 L1167.4,470.4 L1164.5,479.3 L1160.0,487.2 L1154.4,493.9 L1149.9,499.5 L1146.5,501.8 L1143.6,499.1 L1139.8,495.0 L1138.7,488.3 L1135.3,481.6 L1132.4,477.6 L1134.2,486.1 L1137.6,493.9 L1142.1,501.8 L1143.6,511.9 L1143.2,519.7 L1139.8,526.4 L1134.2,534.3 L1129.7,541.0 L1126.4,546.6 L1124.1,550.0 L1126.4,560.1 L1129.3,569.1 L1132.4,578.0 L1134.7,584.8 L1136.4,591.5 L1133.8,600.5 L1126.4,607.2 L1118.5,612.1 L1111.8,616.6 L1102.8,620.0 L1096.1,623.3 L1090.5,627.8 L1086.0,630.1 L1121.5,604.5 L1114.8,611.2 L1103.6,613.9 L1094.6,619.5 L1085.6,627.4 L1081.1,634.1 L1072.1,635.2 L1065.4,639.7 L1058.7,646.4 L1056.4,652.0 L1049.7,657.6 L1043.0,663.3 L1036.3,667.7 L1029.5,672.2 L1022.8,677.8 L1019.4,685.7 L1015.0,692.4 L1012.7,699.1 L1009.8,705.9 L1008.9,712.6 L1009.8,717.1 L1010.9,724.0 L1013.2,737.5 L1016.6,751.1 L1021.1,764.7 L1024.5,778.3 L1029.1,791.9 L1033.6,805.5 L1038.1,816.8 L1039.5,828.1 L1038.3,839.4 L1035.8,848.5 L1032.5,857.5 L1029.1,862.5 L1022.3,864.8 L1015.9,864.8 L1013.2,858.0 L1009.8,851.2 L1005.3,846.7 L1000.8,842.2 L998.5,833.1 L995.1,826.3 L992.4,819.5 L989.4,812.7 L986.0,803.7 L982.0,796.9 L979.7,787.8 L981.1,781.0 L982.4,774.2 L981.5,765.2 L978.1,758.4 L977.0,757.3 L972.3,752.6 L967.6,745.5 L962.9,738.5 L956.6,733.8 L950.3,733.8 L947.2,738.5 L940.9,740.1 L933.1,743.2 L926.3,745.5 L925.2,741.6 L922.1,733.8 L917.4,727.5 L911.1,723.6 L904.8,722.8 L897.0,723.6 L890.7,722.0 L884.4,724.4 L878.1,728.3 L872.2,729.1 L871.1,714.9 L869.5,714.9 L867.9,726.7 L864.0,724.4 L856.2,724.4 L848.3,725.9 L840.8,728.8 L845.5,731.4 L848.6,733.8 L847.1,738.5 L843.1,743.2 L839.2,747.9 L842.3,751.0 L845.5,755.0 L850.2,757.3 L848.3,760.8 L841.7,763.9 L838.9,755.7 L834.2,751.8 L830.3,751.0 L827.9,755.7 L824.0,758.1 L820.1,754.2 L816.9,758.1 L812.2,760.5 L807.5,757.3 L802.8,752.6 L798.1,747.9 L792.6,743.2 L788.7,740.1 L784.7,741.6 L782.4,745.5 L776.1,745.5 L768.3,742.4 L760.4,740.4 L752.6,740.8 L744.7,743.2 L747.9,743.2 L738.9,746.6 L729.8,750.0 L727.1,744.3 L723.5,752.3 L716.2,760.2 L707.2,767.0 L698.1,771.5 L689.1,773.8 L683.4,779.4 L677.3,784.0 L675.9,791.9 L672.1,795.3 L672.8,800.9 L668.2,805.5 L671.4,810.0 L670.5,819.1 L672.8,828.1 L675.0,834.9 L678.6,841.0 L670.9,843.3 L661.9,841.0 L655.1,837.6 L646.0,834.2 L638.1,830.8 L634.7,824.0 L632.5,817.2 L627.9,810.5 L627.9,803.7 L624.5,796.9 L620.0,790.1 L615.5,783.3 L610.9,774.2 L606.4,765.2 L601.9,757.2 L597.4,750.5 L598.9,755.4 L592.7,748.3 L588.0,742.8 L583.2,741.2 L575.4,741.2 L567.5,740.5 L561.3,743.6 L558.1,749.9 L556.6,756.2 L553.4,760.9 L550.3,763.2 L545.6,761.6 L539.3,756.9 L533.0,753.0 L526.7,748.3 L522.0,743.6 L519.7,735.7 L517.3,729.5 L514.2,723.2 L509.5,716.9 L503.2,712.2 L496.9,705.9 L490.6,701.2 L485.9,696.5 L482.0,689.4 L477.3,686.6 L477.3,688.7 L444.3,688.7 L444.3,700.4 L427.1,700.4 L427.8,701.1 L384.9,701.1 L305.8,670.6 L306.2,665.2 L257.2,669.6 L254.3,663.9 L253.4,656.3 L250.5,650.6 L244.8,643.9 L237.2,639.1 L232.4,637.2 L229.6,633.4 L221.9,629.6 L214.3,626.7 L208.6,622.0 L199.1,620.1 L187.6,618.2 L182.9,612.4 L181.9,604.8 L180.0,597.2 L179.2,596.2 L173.6,587.2 L168.0,580.5 L162.4,571.5 L157.9,562.5 L154.5,553.6 L147.8,544.6 L145.6,535.6 L150.0,535.6 L152.3,526.6 L146.7,522.1 L142.2,524.4 L135.5,522.1 L129.9,513.2 L124.3,504.2 L118.6,496.4 L116.4,484.0 L113.0,473.9 L107.4,466.1 L104.1,459.3 L106.3,450.4 L108.6,439.2 L107.4,427.9 L105.2,420.1 L102.9,404.4 L100.7,397.7 L102.9,388.7 L106.3,377.5 L108.5,359.6 L110.8,341.6 L111.9,325.9 L112.4,306.9 L111.5,299.0 L109.7,290.0 L107.4,281.1 L104.1,269.9 L99.6,258.6 L96.7,251.9 L107.4,253.7 L118.6,255.7 L129.9,257.1 L132.5,249.7 L131.0,242.9 L135.5,238.5 L137.7,235.5Z" stroke-width="4.2"/>
<path d="M259.3,235.4 L259.3,313.2"/>
<path d="M258.8,313.1 L264.4,314.7 L270.0,320.3 L267.8,330.4 L263.3,341.6 L257.7,348.3 L253.2,355.1 L254.3,360.7 L259.9,361.8 L258.8,368.5 L258.8,417.9"/>
<path d="M112.4,306.9 L123.1,308.4 L133.2,310.2 L137.7,319.2 L141.1,323.7 L150.0,325.5 L163.5,321.9 L179.2,321.0 L192.6,318.1 L206.1,314.7 L219.6,313.6 L258.8,313.1"/>
<path d="M106.5,420.2 L385.4,420.2"/>
<path d="M197.0,420.2 L197.0,499.4 L310.6,602.0"/>
<path d="M322.5,420.2 L322.5,552.2"/>
<path d="M322.0,551.8 L322.0,574.3 L317.2,577.2 L311.5,576.2 L307.7,578.1 L308.7,589.6 L310.6,602.0 L312.5,610.5 L317.2,620.1 L321.1,623.9 L316.3,628.6 L312.5,635.3 L311.5,642.9 L308.7,648.7 L307.7,654.4 L312.5,657.2 L311.5,663.9 L306.8,666.8 L305.8,670.6"/>
<path d="M322.5,552.2 L731.2,552.2"/>
<path d="M385.4,446.6 L574.8,446.6"/>
<path d="M385.4,341.0 L385.4,446.6"/>
<path d="M385.4,420.2 L385.4,446.6"/>
<path d="M427.5,446.6 L427.5,702.0"/>
<path d="M385.4,341.0 L532.7,341.0"/>
<path d="M280.1,235.5 L280.1,260.9 L284.6,267.6 L288.0,276.6 L298.0,285.6 L305.9,293.4 L302.0,290.6 L312.1,296.7 L315.5,300.7 L312.1,314.2 L310.4,324.3 L315.5,326.0 L322.2,322.6 L328.9,331.0 L334.0,341.1 L340.7,346.2 L345.8,356.2 L349.1,357.3 L359.2,352.9 L372.7,351.2 L379.4,347.8 L385.1,352.9"/>
<path d="M532.7,235.4 L532.7,446.6"/>
<path d="M532.7,316.1 L690.4,316.1"/>
<path d="M532.7,393.8 L649.9,393.9 L656.6,397.6 L663.3,400.0 L671.8,397.3 L681.9,400.0 L688.6,403.3 L692.6,405.7"/>
<path d="M574.8,446.6 L574.8,552.2"/>
<path d="M574.8,473.0 L714.5,471.6"/>
<path d="M554.8,552.2 L554.8,684.3"/>
<path d="M554.8,565.4 L618.0,565.4"/>
<path d="M618.0,565.4 L618.0,616.7"/>
<path d="M554.8,684.3 L477.3,684.0"/>
<path d="M676.8,235.1 L678.5,246.9 L681.2,260.4 L683.5,273.8 L685.9,287.3 L687.9,300.7 L690.3,310.8 L689.3,317.6 L684.5,322.6 L686.9,327.7 L693.6,331.0 L693.6,379.8 L689.3,381.5 L690.3,388.2 L691.9,394.9 L690.3,401.7 L692.6,405.7 L697.0,415.1 L700.4,425.2 L703.7,435.3 L705.4,445.4 L707.1,455.5 L710.4,462.2 L715.5,470.6 L720.5,475.7 L725.6,479.0 L722.2,484.1 L727.3,489.1 L731.6,494.2 L731.2,552.2 L731.2,565.4"/>
<path d="M693.6,379.8 L801.3,379.8"/>
<path d="M708.1,456.5 L794.6,456.5 L797.9,462.2 L796.2,467.3"/>
<path d="M782.7,296.3 L779.7,299.7 L779.7,310.8 L771.6,315.8 L766.6,323.9 L770.6,330.0 L768.6,341.0 L769.6,347.1 L778.7,352.1 L786.8,357.2 L794.8,363.2 L800.9,369.3 L803.9,377.4 L804.9,387.5 L806.9,400.0 L811.4,403.3 L816.4,406.7 L823.1,415.1 L824.8,421.9 L819.8,430.3 L811.4,435.3 L806.3,440.4 L807.0,448.8 L803.0,455.5 L796.2,460.5 L797.9,470.6 L801.3,479.0 L808.0,487.5 L813.1,494.2 L816.4,502.6 L818.1,512.7 L821.5,520.1"/>
<path d="M816.4,406.7 L874.5,406.2"/>
<path d="M823.1,300.7 L829.1,304.7 L841.2,308.8 L853.3,311.8 L863.4,314.8 L869.5,318.9 L871.5,326.9 L875.5,330.0 L877.5,338.0"/>
<path d="M880.8,428.8 L880.8,489.3 L879.2,495.3 L880.2,501.4 L878.2,507.5 L875.1,513.5 L874.1,520.0"/>
<path d="M899.3,425.7 L938.3,425.7 L966.9,425.7 L970.0,427.8 L973.0,429.8"/>
<path d="M938.3,425.7 L938.3,495.3"/>
<path d="M916.5,520.0 L920.5,515.5 L922.5,509.5 L927.6,505.4 L933.6,504.4 L935.7,499.4 L939.7,495.3 L944.7,496.4 L948.8,501.4 L953.8,504.4 L960.9,506.4 L966.9,507.5 L973.0,505.4 L978.0,507.5 L983.1,513.5 L986.1,520.0"/>
<path d="M1028.5,420.7 L1028.5,453.0 L1025.4,456.0 L1024.4,465.1 L1020.4,475.2 L1015.3,481.2 L1009.3,487.3 L1004.3,491.3 L1000.2,496.4 L996.2,499.4 L993.2,503.4 L989.1,509.5 L988.1,515.5 L989.1,520.0"/>
<path d="M1028.5,453.0 L1028.5,479.2 L1130.3,479.2"/>
<path d="M1043.6,413.6 L1043.6,419.1 L1139.4,419.1 L1144.5,426.8 L1148.5,433.8 L1150.5,436.8 L1146.5,440.9 L1142.4,446.9 L1141.4,455.0 L1145.5,461.0 L1150.5,466.1 L1146.5,471.1 L1140.4,475.2 L1132.4,479.2"/>
<path d="M1049.6,479.2 L1049.6,493.3 L1056.7,489.3 L1063.8,484.3 L1069.8,481.2 L1073.9,484.3 L1078.9,489.3 L1083.9,493.3 L1089.0,496.4"/>
<path d="M1177.9,340.1 L1178.6,349.7 L1176.4,363.2 L1177.5,376.6 L1180.8,381.1 L1182.0,400.2 L1178.6,417.0 L1175.2,439.4 L1174.1,445.0"/>
<path d="M1219.0,339.0 L1216.7,346.4 L1213.4,354.2 L1206.6,358.7 L1204.4,367.7 L1201.0,376.6 L1197.7,387.9 L1195.4,399.1"/>
<path d="M1227.3,332.2 L1230.2,385.6 L1233.6,394.6"/>
<path d="M1182.0,400.2 L1222.3,400.2 L1229.1,395.7 L1233.6,394.6"/>
<path d="M1178.6,419.3 L1221.2,419.3 L1223.5,427.1 L1226.8,430.5"/>
<path d="M1212.9,419.3 L1212.9,437.2"/>
<path d="M1150.6,437.2 L1170.7,446.2"/>
<path d="M1129.7,478.2 L1129.7,511.9 L1143.6,511.9"/>
<path d="M1040.0,563.9 L1126.4,563.9"/>
<path d="M1049.0,482.7 L1050.1,492.8 L1061.3,488.3 L1069.2,483.8 L1073.6,486.1 L1077.0,491.7 L1071.4,497.3 L1064.7,504.0 L1057.9,508.5 L1051.2,513.0 L1044.5,517.5 L1040.0,519.7"/>
<path d="M1084.9,486.1 L1091.6,492.8 L1098.3,499.5 L1100.6,506.3 L1096.1,513.0 L1099.4,517.5 L1107.3,519.7 L1114.0,524.2 L1118.5,528.7"/>
<path d="M1017.2,600.0 L1021.7,609.0 L1046.4,609.4 L1069.9,633.6"/>
<path d="M969.0,610.1 L975.7,617.9 L982.4,629.2 L993.6,639.3 L1000.4,648.2 L1008.2,659.4 L1012.7,669.5 L1017.2,679.6 L1020.6,681.2"/>
<path d="M934.0,716.0 L992.8,719.4 L992.8,726.2 L997.4,726.2 L997.8,714.9 L1009.8,714.5"/>
<path d="M802.8,660.0 L807.5,667.8 L808.3,675.7 L804.4,680.4 L802.8,686.7 L798.9,694.5 L795.7,702.4 L794.2,710.2 L835.0,710.2 L832.6,718.1 L834.2,724.4 L837.3,729.1"/>
<path d="M862.4,660.0 L860.9,724.4"/>
<path d="M882.8,724.4 L883.6,722.0 L880.5,716.5 L878.1,709.4 L933.1,709.4"/>
<path d="M928.4,660.0 L934.6,669.4 L936.2,677.3 L932.3,683.5 L931.5,691.4 L932.3,704.0 L933.9,710.2 L936.2,718.1"/>
<path d="M742.4,660.0 L743.1,680.4 L749.4,694.5 L753.3,705.5 L751.0,719.6 L749.4,730.6 L747.1,738.5 L744.7,743.2"/>
<path d="M731.3,495.2 L732.3,563.8 L733.3,574.9 L736.3,599.1 L737.3,643.5 L743.4,643.5 L743.4,650.0"/>
<path d="M732.3,563.8 L823.1,563.8 L826.1,568.9 L823.1,572.9 L821.0,577.9 L832.1,577.9"/>
<path d="M796.8,470.0 L799.9,478.1 L806.9,486.1 L813.0,492.2 L816.0,500.3 L821.0,501.3 L826.1,504.3 L825.1,510.3 L821.0,513.4 L822.1,519.4 L829.1,525.5 L835.2,530.5 L839.2,536.6 L841.2,542.6 L844.3,547.7 L845.7,552.7 L842.2,560.8 L838.2,563.8 L837.2,570.9 L834.2,576.9 L831.1,583.0 L829.1,589.0 L826.1,595.1 L825.1,603.2 L821.0,609.2 L817.0,615.3 L813.0,623.3 L806.9,629.4 L803.9,637.5 L802.9,645.5 L804.9,650.0 L803.0,656.4 L804.6,668.2 L808.0,674.9 L803.0,685.0 L797.9,695.1 L794.6,705.2 L794.6,710.3 L831.6,710.3"/>
<path d="M845.7,551.7 L853.3,545.7 L859.4,547.7 L861.4,541.6 L867.5,537.6 L869.5,530.5 L873.5,527.5 L881.6,528.5 L889.6,525.5 L893.7,529.5 L899.7,527.5 L903.8,520.4 L909.8,521.4 L916.9,518.4 L921.9,513.4 L924.9,507.3 L932.0,505.3 L939.1,500.3 L945.1,496.2 L950.2,500.3 L956.2,504.3 L964.3,506.3 L972.4,507.3 L979.4,506.3 L982.4,510.3 L984.9,514.4 L986.4,513.4 L991.5,508.4 L994.5,502.3 L998.5,497.2 L1004.6,492.2 L1010.6,489.2 L1016.7,484.1 L1021.7,478.1 L1022.8,470.0"/>
<path d="M880.6,470.0 L880.6,482.1 L877.5,494.2 L880.6,502.3 L877.5,510.3 L873.5,517.4 L869.5,522.5 L869.5,530.5"/>
<path d="M939.5,470.0 L939.5,500.3"/>
<path d="M839.2,564.4 L869.5,564.4 L871.5,560.6 L962.3,560.8 L962.2,562.9 L1004.6,563.9 L1125.7,563.9"/>
<path d="M825.5,604.2 L949.2,603.6 L968.3,609.3"/>
<path d="M867.5,604.2 L865.4,650.0 L862.4,660.0"/>
<path d="M920.9,604.2 L929.0,650.0 L928.4,660.0"/>
<path d="M983.4,517.4 L985.4,524.5 L989.5,530.6 L993.5,537.6 L986.4,544.7 L980.4,549.7 L974.3,554.8 L968.3,558.8 L962.2,562.4"/>
<path d="M993.5,537.6 L998.5,541.7 L1004.6,545.7 L1012.7,545.7 L1020.7,541.7 L1028.8,538.6 L1034.9,532.6 L1038.9,526.5 L1042.9,520.5 L1046.0,513.4 L1053.0,512.4 L1059.1,507.3 L1065.1,503.3 L1070.2,498.3 L1074.2,492.2 L1079.3,489.2 L1085.3,493.2"/>
<path d="M1050.0,478.1 L1050.0,492.2 L1057.1,489.2 L1063.1,485.1 L1069.2,482.1 L1073.2,484.1 L1079.3,489.2 L1085.3,493.2 L1091.4,494.2 L1096.4,500.3 L1101.5,505.3 L1097.4,511.4 L1099.5,515.4 L1107.5,516.4 L1113.6,520.5 L1119.6,525.5"/>
<path d="M1004.6,563.9 L1000.6,568.9 L994.5,572.9 L986.4,577.0 L980.4,582.0 L972.3,586.1 L964.2,590.1 L956.1,593.1 L950.1,597.2 L948.1,601.2 L947.7,603.6"/>
<path d="M968.3,609.3 L974.3,604.2 L980.4,602.2 L1016.7,600.8 L1020.7,604.2 L1022.8,609.3 L1047.0,609.3 L1069.2,631.5"/>
<path d="M617.9,616.1 L624.7,619.4 L631.4,617.7 L638.1,622.8 L644.8,626.2 L651.6,624.5 L658.3,629.5 L665.0,632.9 L671.8,634.6 L678.5,637.9 L685.2,636.2 L691.9,634.6 L698.7,632.9 L705.4,631.2 L712.1,632.9 L718.9,631.2 L725.6,634.6 L732.3,636.2 L739.0,639.6 L742.4,641.3 L742.4,656.4 L744.1,656.4 L745.8,688.4 L747.5,695.1 L742.4,660.0"/>
<path d="M743.1,656.4 L803.0,656.4"/>
</g>
<path d="M131.0,240.7 L137.7,238.5 L143.8,241.8 L146.0,249.7 L145.1,258.6 L148.9,266.5 L150.0,275.5 L145.6,283.3 L137.7,287.8 L132.1,284.4 L129.9,277.7 L133.2,269.9 L138.4,264.2 L137.7,256.4 L132.1,253.0 L128.7,247.4Z" fill="#000"/>
<path d="M142.2,521.0 L148.9,519.9 L151.2,526.6 L152.3,535.6 L155.7,539.0 L153.4,542.3 L148.9,540.1 L145.6,533.4 L143.8,526.6Z" fill="#000"/>
<path d="M979.2,788.5 L987.2,787.4 L990.1,793.0 L987.2,798.2 L981.5,796.4Z" fill="#000"/>
<path d="M990.6,815.7 L996.2,814.5 L997.4,821.3 L992.8,822.5Z" fill="#000"/>
<path d="M1013.2,858.7 L1020.0,859.8 L1021.1,865.5 L1014.3,865.5Z" fill="#000"/>
<path d="M1103.6,602.2 L1117.0,601.1 L1118.1,610.1 L1109.2,612.3Z" fill="#000"/>
<path d="M721.9,740.9 L729.8,739.8 L728.7,747.7 L723.0,750.0Z" fill="#000"/>
<path d="M686.8,769.2 L698.1,768.1 L695.8,774.9 L687.9,776.0Z" fill="#000"/>
<path d="M663.0,802.1 L668.7,800.9 L669.8,808.9 L664.2,810.0Z" fill="#000"/>
<path d="M919.9,336.0 L926.0,335.0 L927.0,346.1 L921.9,348.1Z" fill="#000"/>
<path d="M820.1,729.8 L824.8,725.1 L832.6,727.5 L834.2,732.2 L827.9,734.6 L821.6,733.8 L820.1,729.8" fill="none" stroke="#000" stroke-width="3" stroke-linejoin="round" stroke-linecap="round"/>
<path d="M1125.7,484.4 L1120.3,489.8 L1115.0,493.8 L1112.3,503.2 L1113.6,512.6 L1116.3,520.7 L1119.0,528.8 L1120.3,536.8 L1121.7,547.6" fill="none" stroke="#000" stroke-width="4" stroke-linejoin="round" stroke-linecap="round"/>
<path d="M1129.8,480.3 L1127.1,491.1 L1125.7,503.2 L1126.4,512.6 L1131.1,519.3 L1137.8,516.7" fill="none" stroke="#000" stroke-width="4" stroke-linejoin="round" stroke-linecap="round"/>
<path d="M1130.0,479.0 L1129.1,513.3 L1139.2,512.6" fill="none" stroke="#000" stroke-width="3" stroke-linejoin="round" stroke-linecap="round"/>
<path d="M1088.1,491.1 L1093.4,493.8 L1100.2,499.2 L1104.2,503.2 L1097.5,509.9 L1094.8,515.3 L1100.2,515.3 L1106.9,520.7 L1112.3,527.4 L1116.3,534.1" fill="none" stroke="#000" stroke-width="4" stroke-linejoin="round" stroke-linecap="round"/>
<path d="M1102.9,526.1 L1112.3,536.8 L1119.0,544.9" fill="none" stroke="#000" stroke-width="4" stroke-linejoin="round" stroke-linecap="round"/>
<path d="M1104.2,542.2 L1115.0,550.3 L1120.3,553.0" fill="none" stroke="#000" stroke-width="4" stroke-linejoin="round" stroke-linecap="round"/>
<path d="M1119.0,515.3 L1124.4,520.7 L1127.1,526.1 L1124.4,534.1 L1120.3,542.2" fill="none" stroke="#000" stroke-width="4" stroke-linejoin="round" stroke-linecap="round"/>
<path d="M1144.6,504.6 L1143.2,515.3 L1139.2,527.4 L1133.8,536.8 L1127.1,547.6 L1124.4,554.3" fill="none" stroke="#000" stroke-width="4" stroke-linejoin="round" stroke-linecap="round"/>
<path d="M1136.5,484.4 L1139.2,493.8 L1144.6,500.5" fill="none" stroke="#000" stroke-width="4" stroke-linejoin="round" stroke-linecap="round"/>
<path d="M1136.5,479.0 L1133.8,484.4 L1135.1,491.1 L1139.2,496.5" fill="none" stroke="#000" stroke-width="4" stroke-linejoin="round" stroke-linecap="round"/>
<path d="M1124.8,552.9 L1126.4,560.1 L1129.3,569.1 L1131.5,578.0 L1130.2,587.0 L1126.4,596.0 L1118.5,607.2 L1109.5,612.8" fill="none" stroke="#000" stroke-width="3" stroke-linejoin="round" stroke-linecap="round"/>
<path d="M1129.7,573.6 L1116.3,571.3 L1107.3,570.2 L1109.5,578.0 L1116.3,575.8 L1114.0,582.5 L1123.0,580.3 L1121.9,573.6" fill="none" stroke="#000" stroke-width="4" stroke-linejoin="round" stroke-linecap="round"/>
<path d="M1130.8,587.0 L1118.5,591.5 L1105.0,591.5" fill="none" stroke="#000" stroke-width="4" stroke-linejoin="round" stroke-linecap="round"/>
<path d="M1125.2,600.5 L1111.8,602.7 L1100.6,605.0" fill="none" stroke="#000" stroke-width="4" stroke-linejoin="round" stroke-linecap="round"/>
<path d="M1118.5,611.7 L1107.3,609.4 L1100.6,607.2" fill="none" stroke="#000" stroke-width="4" stroke-linejoin="round" stroke-linecap="round"/>
<path d="M1170.7,455.6 L1169.6,452.4 L1174.8,446.2 L1184.2,444.4 L1195.4,442.6 L1206.6,441.0 L1212.2,442.1 L1211.1,444.4 L1202.1,447.3 L1190.9,450.7 L1179.7,454.0Z" fill="#EE9035"/>
<path d="M1170.7,455.6 L1169.6,452.4 L1174.8,446.2 L1184.2,444.4 L1195.4,442.6 L1206.6,441.0 L1212.2,442.1 L1211.1,444.4 L1202.1,447.3 L1190.9,450.7 L1179.7,454.0 L1170.7,455.6" fill="none" stroke="#000" stroke-width="3" stroke-linejoin="round" stroke-linecap="round"/>
<path d="M1214.5,439.4 L1218.3,439.4 L1218.3,442.8 L1214.5,442.8Z" fill="#D800D8"/>
<path d="M1230.2,432.7 L1233.6,432.7 L1233.6,436.1 L1230.2,436.1Z" fill="#D800D8"/>
<path d="M844.3,263.4 L853.3,258.3 L861.4,255.9 L861.8,258.7 L855.3,262.4 L847.3,266.8Z" fill="#4D4D4D"/>
<path d="M813.0,287.6 L820.0,285.0 L821.0,289.6 L816.0,293.0Z" fill="#4D4D4D"/>
<path d="M918.9,319.9 L923.9,318.9 L924.9,324.9 L919.9,326.5Z" fill="#4D4D4D"/>
<path d="M913.9,327.9 L917.9,326.9 L918.3,330.6 L914.3,331.4Z" fill="#4D4D4D"/>
<path d="M908.8,337.0 L912.8,336.0 L913.4,341.0 L909.4,342.1Z" fill="#4D4D4D"/>
<path d="M957.2,311.8 L966.3,311.2 L966.7,316.8 L958.2,316.4Z" fill="#4D4D4D"/>
<path d="M947.1,299.7 L953.2,299.7 L953.2,304.3 L947.7,304.3Z" fill="#4D4D4D"/>
<path d="M1279.5,358.7 L1287.4,358.7 L1287.4,364.3 L1280.7,365.4Z" fill="#4D4D4D"/>
<path d="M187.0,628.7 L194.9,627.9 L201.2,629.0 L201.2,633.1 L194.9,634.2 L187.8,631.8Z" fill="#D800D8"/>
<path d="M200.4,628.7 L209.0,629.6 L209.0,632.6 L200.8,633.1Z" fill="#EE9035"/>
<path d="M205.9,649.1 L208.2,649.1 L209.0,653.5 L206.6,653.8Z" fill="#DE7B1A"/>
<path d="M225.5,644.4 L231.8,645.9 L232.5,649.1 L227.1,648.3Z" fill="#00D8D8"/>
<path d="M225.5,655.3 L227.8,655.3 L231.8,662.4 L229.4,664.0Z" fill="#DE7B1A"/>
<path d="M216.1,644.0 L218.1,644.0 L218.1,645.9 L216.1,645.9Z" fill="#DE7B1A"/>
<path d="M1232.4,435.0 L1239.2,434.5 L1239.8,439.4 L1233.6,439.9Z" fill="#000"/>
<path d="M1244.8,436.1 L1251.9,435.6 L1252.4,440.8 L1245.7,441.2Z" fill="#000"/>
<path d="M978.1,877.9 L995.1,879.1 L1006.4,876.8 L1017.7,872.3 L1026.8,866.6 L1033.6,858.7" fill="none" stroke="#F49DB5" stroke-width="3" stroke-linejoin="round" stroke-linecap="round" stroke-dasharray="5 3"/>
<path d="M188.2,277.7 L192.6,269.9 L201.6,262.0 L210.6,258.6 L219.6,262.0 L230.8,260.9 L237.5,266.5" fill="none" stroke="#EE9035" stroke-width="1.3" stroke-linejoin="round" stroke-linecap="round"/>
</svg>
<div class="lg">Gen. x stage</div>
<div class="sw" style="left:1356.8px;top:379.00px;background:#4D4D4D;width:26.1px"></div><div class="lt" style="left:1393.8px;top:379.90px">excl.-severe</div><div class="sw" style="left:1356.8px;top:404.47px;background:#FFFF00;width:26.1px"></div><div class="lt" style="left:1393.8px;top:405.37px">2nd gen. eggs</div><div class="sw" style="left:1356.8px;top:429.94px;background:#EEE400;width:26.1px"></div><div class="lt" style="left:1393.8px;top:430.84px">2nd gen. larvae</div><div class="sw" style="left:1356.8px;top:455.41px;background:#DEC800;width:26.1px"></div><div class="lt" style="left:1393.8px;top:456.31px">2nd gen. pupae</div><div class="sw" style="left:1356.8px;top:480.88px;background:#CDAD00;width:26.1px"></div><div class="lt" style="left:1393.8px;top:481.78px">2nd gen. adults</div><div class="sw" style="left:1356.8px;top:506.35px;background:#90EE90;width:26.1px"></div><div class="lt" style="left:1393.8px;top:507.25px">3rd gen. eggs</div><div class="sw" style="left:1356.8px;top:531.82px;background:#60C060;width:26.1px"></div><div class="lt" style="left:1393.8px;top:532.72px">3rd gen. larvae</div><div class="sw" style="left:1356.8px;top:557.29px;background:#309230;width:26.1px"></div><div class="lt" style="left:1393.8px;top:558.19px">3rd gen. pupae</div><div class="sw" style="left:1356.8px;top:582.76px;background:#006400;width:26.1px"></div><div class="lt" style="left:1393.8px;top:583.66px">3rd gen. adults</div><div class="sw" style="left:1356.8px;top:608.23px;background:#FF00FF;width:26.1px"></div><div class="lt" style="left:1393.8px;top:609.13px">4th gen. eggs</div><div class="sw" style="left:1356.8px;top:633.70px;background:#D800D8;width:26.1px"></div><div class="lt" style="left:1393.8px;top:634.60px">4th gen. larvae</div><div class="sw" style="left:1356.8px;top:659.17px;background:#B200B2;width:26.1px"></div><div class="lt" style="left:1393.8px;top:660.07px">4th gen. pupae</div><div class="sw" style="left:1356.8px;top:684.64px;background:#8B008B;width:26.1px"></div><div class="lt" style="left:1393.8px;top:685.54px">4th gen. adults</div><div class="sw" style="left:1356.8px;top:710.11px;background:#FFA54F;width:26.1px"></div><div class="lt" style="left:1393.8px;top:711.01px">5th gen. eggs</div><div class="sw" style="left:1356.8px;top:735.58px;background:#EE9035;width:26.1px"></div><div class="lt" style="left:1393.8px;top:736.48px">5th gen. larvae</div><div class="sw" style="left:1575.0px;top:379.00px;background:#DE7B1A;width:24.9px"></div><div class="lt" style="left:1612.1px;top:379.90px">5th gen. pupae</div><div class="sw" style="left:1575.0px;top:404.47px;background:#CD6600;width:24.9px"></div><div class="lt" style="left:1612.1px;top:405.37px">5th gen. adults</div><div class="sw" style="left:1575.0px;top:429.94px;background:#00FFFF;width:24.9px"></div><div class="lt" style="left:1612.1px;top:430.84px">6th gen. eggs</div><div class="sw" style="left:1575.0px;top:455.41px;background:#00D8D8;width:24.9px"></div><div class="lt" style="left:1612.1px;top:456.31px">6th gen. larvae</div><div class="sw" style="left:1575.0px;top:480.88px;background:#00B2B2;width:24.9px"></div><div class="lt" style="left:1612.1px;top:481.78px">6th gen. pupae</div><div class="sw" style="left:1575.0px;top:506.35px;background:#008B8B;width:24.9px"></div><div class="lt" style="left:1612.1px;top:507.25px">6th gen. adults</div><div class="sw" style="left:1575.0px;top:531.82px;background:#ADFF2F;width:24.9px"></div><div class="lt" style="left:1612.1px;top:532.72px">7th gen. eggs</div><div class="sw" style="left:1575.0px;top:557.29px;background:#8AD81F;width:24.9px"></div><div class="lt" style="left:1612.1px;top:558.19px">7th gen. larvae</div><div class="sw" style="left:1575.0px;top:582.76px;background:#68B210;width:24.9px"></div><div class="lt" style="left:1612.1px;top:583.66px">7th gen. pupae</div><div class="sw" style="left:1575.0px;top:608.23px;background:#458B00;width:24.9px"></div><div class="lt" style="left:1612.1px;top:609.13px">7th gen. adults</div><div class="sw" style="left:1575.0px;top:633.70px;background:#AB82FF;width:24.9px"></div><div class="lt" style="left:1612.1px;top:634.60px">8th gen. eggs</div><div class="sw" style="left:1575.0px;top:659.17px;background:#9C63EE;width:24.9px"></div><div class="lt" style="left:1612.1px;top:660.07px">8th gen. larvae</div><div class="sw" style="left:1575.0px;top:684.64px;background:#8C45DE;width:24.9px"></div><div class="lt" style="left:1612.1px;top:685.54px">8th gen. pupae</div><div class="sw" style="left:1575.0px;top:710.11px;background:#7D26CD;width:24.9px"></div><div class="lt" style="left:1612.1px;top:711.01px">8th gen. adults</div><div class="sw" style="left:1575.0px;top:735.58px;background:#EEDD82;width:24.9px"></div><div class="lt" style="left:1612.1px;top:736.48px">9th gen. eggs</div><div class="sw" style="left:1787.3px;top:379.00px;background:#CDBA57;width:25.7px"></div><div class="lt" style="left:1824.0px;top:379.90px">9th gen. larvae</div><div class="sw" style="left:1787.3px;top:404.47px;background:#AC982B;width:25.7px"></div><div class="lt" style="left:1824.0px;top:405.37px">9th gen. pupae</div><div class="sw" style="left:1787.3px;top:429.94px;background:#8B7500;width:25.7px"></div><div class="lt" style="left:1824.0px;top:430.84px">9th gen. adults</div><div class="sw" style="left:1787.3px;top:455.41px;background:#98F5FF;width:25.7px"></div><div class="lt" style="left:1824.0px;top:456.31px">10th gen. eggs</div><div class="sw" style="left:1787.3px;top:480.88px;background:#87D5F9;width:25.7px"></div><div class="lt" style="left:1824.0px;top:481.78px">10th gen. larvae</div><div class="sw" style="left:1787.3px;top:506.35px;background:#75B5F3;width:25.7px"></div><div class="lt" style="left:1824.0px;top:507.25px">10th gen. pupae</div><div class="sw" style="left:1787.3px;top:531.82px;background:#6495ED;width:25.7px"></div><div class="lt" style="left:1824.0px;top:532.72px">10th gen. adults</div><div class="sw" style="left:1787.3px;top:557.29px;background:#FFE4E1;width:25.7px"></div><div class="lt" style="left:1824.0px;top:558.19px">11th gen. eggs</div><div class="sw" style="left:1787.3px;top:582.76px;background:#F9C0CB;width:25.7px"></div><div class="lt" style="left:1824.0px;top:583.66px">11th gen. larvae</div><div class="sw" style="left:1787.3px;top:608.23px;background:#F49DB5;width:25.7px"></div><div class="lt" style="left:1824.0px;top:609.13px">11th gen. pupae</div><div class="sw" style="left:1787.3px;top:633.70px;background:#EE799F;width:25.7px"></div><div class="lt" style="left:1824.0px;top:634.60px">11th gen. adults</div>
</body></html>
